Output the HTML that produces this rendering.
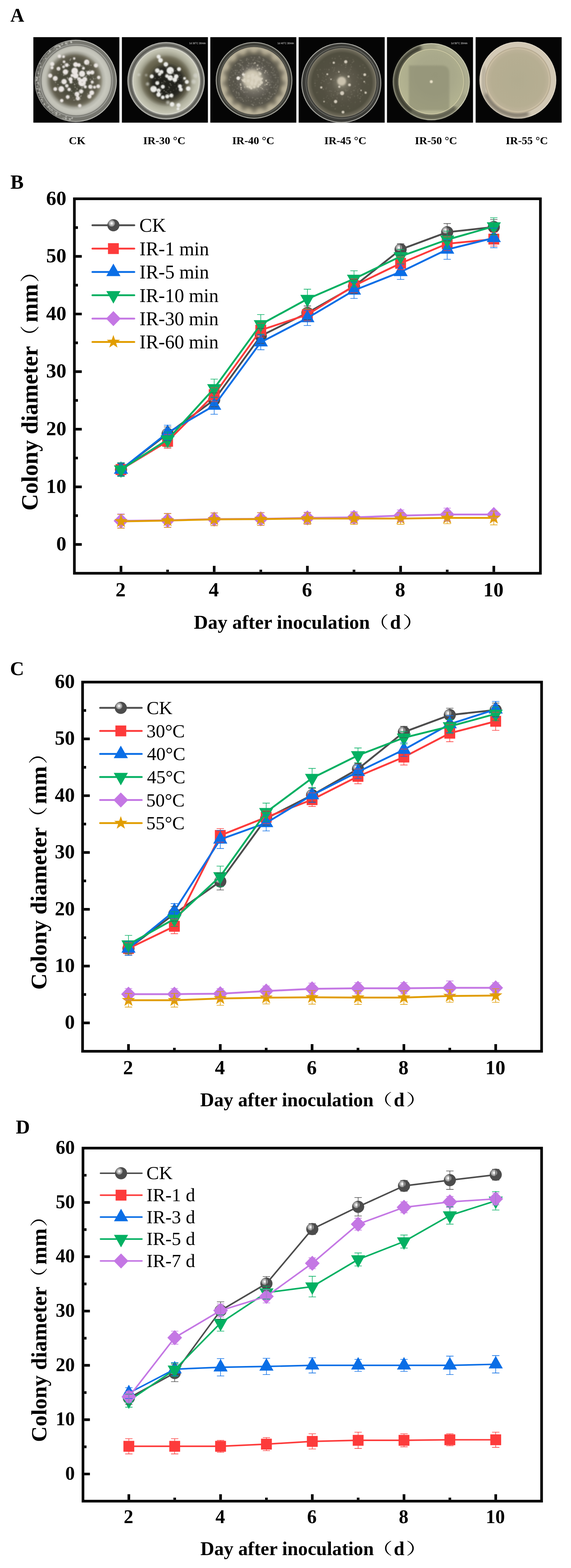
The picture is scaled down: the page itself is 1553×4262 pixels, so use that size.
<!DOCTYPE html>
<html><head><meta charset="utf-8"><title>Figure</title>
<style>html,body{margin:0;padding:0;background:#fff;}svg{display:block;}</style></head>
<body>
<svg width="1553" height="4262" viewBox="0 0 1553 4262" font-family="'Liberation Serif','Times New Roman',serif">
<defs>
<radialGradient id="ball" cx="0.355" cy="0.34" r="0.29" fx="0.355" fy="0.34">
<stop offset="0" stop-color="#ffffff"/><stop offset="0.16" stop-color="#fdfdfd"/><stop offset="0.24" stop-color="#dcdcdc"/><stop offset="0.46" stop-color="#cdcdcd"/>
<stop offset="0.52" stop-color="#b0b0b0"/><stop offset="0.78" stop-color="#a2a2a2"/><stop offset="0.84" stop-color="#8c8c8c"/><stop offset="0.96" stop-color="#6a6a6a"/><stop offset="1" stop-color="#4c4c4c"/>
</radialGradient>

<filter id="blur1" x="-20%" y="-20%" width="140%" height="140%"><feGaussianBlur stdDeviation="1.1"/></filter>
<filter id="blur2" x="-20%" y="-20%" width="140%" height="140%"><feGaussianBlur stdDeviation="2"/></filter>
<filter id="blur15" x="-30%" y="-30%" width="160%" height="160%"><feGaussianBlur stdDeviation="1.5"/></filter>
<filter id="blur6" x="-30%" y="-30%" width="160%" height="160%"><feGaussianBlur stdDeviation="7"/></filter>
<filter id="blur4" x="-30%" y="-30%" width="160%" height="160%"><feGaussianBlur stdDeviation="4"/></filter>
<radialGradient id="p1g" cx="0.5" cy="0.5" r="0.5">
<stop offset="0" stop-color="#565246"/><stop offset="0.45" stop-color="#5a5646"/><stop offset="0.6" stop-color="#6c6856"/>
<stop offset="0.7" stop-color="#8a8776"/><stop offset="0.77" stop-color="#b6b6ac"/><stop offset="0.86" stop-color="#c8c8be"/>
<stop offset="0.96" stop-color="#c2c2b8"/><stop offset="1" stop-color="#a6a69e"/></radialGradient>
<radialGradient id="p2g" cx="0.5" cy="0.5" r="0.5">
<stop offset="0" stop-color="#2c2b24"/><stop offset="0.45" stop-color="#33312a"/><stop offset="0.58" stop-color="#4c4a3e"/>
<stop offset="0.68" stop-color="#7a7868"/><stop offset="0.78" stop-color="#aaaa98"/><stop offset="0.9" stop-color="#bcbcaa"/>
<stop offset="0.97" stop-color="#c6c6b6"/><stop offset="1" stop-color="#d8d8cc"/></radialGradient>
<radialGradient id="p3g" cx="0.5" cy="0.5" r="0.5">
<stop offset="0" stop-color="#8a867a"/><stop offset="0.3" stop-color="#7c786c"/><stop offset="0.42" stop-color="#67635a"/>
<stop offset="0.55" stop-color="#57544a"/><stop offset="0.74" stop-color="#5a574c"/><stop offset="0.81" stop-color="#847e6a"/>
<stop offset="0.87" stop-color="#aaa28b"/><stop offset="0.95" stop-color="#bdb59d"/><stop offset="1" stop-color="#aca48e"/></radialGradient>
<radialGradient id="p4g" cx="0.5" cy="0.5" r="0.5">
<stop offset="0" stop-color="#a09a88"/><stop offset="0.14" stop-color="#767262"/><stop offset="0.3" stop-color="#5e5a4c"/>
<stop offset="0.6" stop-color="#524f41"/><stop offset="0.86" stop-color="#504e3f"/><stop offset="0.95" stop-color="#6a6656"/>
<stop offset="1" stop-color="#848070"/></radialGradient>
<radialGradient id="p5g" cx="0.55" cy="0.4" r="0.6">
<stop offset="0" stop-color="#a6a688"/><stop offset="0.5" stop-color="#a9a98b"/><stop offset="0.85" stop-color="#b2b290"/><stop offset="1" stop-color="#b6b594"/></radialGradient>
<radialGradient id="p6g" cx="0.5" cy="0.5" r="0.5">
<stop offset="0" stop-color="#b2ac90"/><stop offset="0.8" stop-color="#b6ae92"/><stop offset="0.92" stop-color="#bcb298"/><stop offset="1" stop-color="#c6baa0"/></radialGradient>
<clipPath id="cp1"><circle cx="207.5" cy="219" r="95"/></clipPath>
<clipPath id="cp2"><circle cx="452" cy="220" r="91"/></clipPath>
<clipPath id="cp3"><circle cx="691" cy="219.4" r="92"/></clipPath>
<clipPath id="cp4"><circle cx="930" cy="224.4" r="94"/></clipPath>
<clipPath id="cp5"><circle cx="1173" cy="222" r="91"/></clipPath>

</defs>
<rect width="1553" height="4262" fill="#fff"/>
<rect x="90.7" y="101" width="234" height="232.4" fill="#050505"/>
<rect x="331.5" y="101" width="234" height="232.4" fill="#050505"/>
<rect x="572" y="101" width="234" height="232.4" fill="#050505"/>
<rect x="812.3" y="101" width="234" height="232.4" fill="#050505"/>
<rect x="1052.5" y="101" width="234" height="232.4" fill="#050505"/>
<rect x="1293.6" y="101" width="234" height="232.4" fill="#050505"/>
<circle cx="206" cy="219.8" r="110.5" fill="#76766f" stroke="#b8b8b2" stroke-width="2.5"/>
<path d="M206 109.3 A110.5 110.5 0 0 0 206 330.3 A100 106 0 0 1 206 109.3Z" fill="#5a5a56"/>
<g filter="url(#blur1)"><g fill="#dcdcd6"><circle cx="153.37" cy="308.64" r="1.45"/><circle cx="106.61" cy="209.18" r="1.17"/><circle cx="106.38" cy="217.6" r="0.84"/><circle cx="175.74" cy="319.55" r="0.89"/><circle cx="147.1" cy="133.89" r="0.92"/><circle cx="111.02" cy="182.07" r="1.75"/><circle cx="105.56" cy="251.59" r="1.78"/><circle cx="157.73" cy="132.94" r="1.09"/><circle cx="163.2" cy="311.48" r="1.11"/><circle cx="143.56" cy="306.62" r="1.38"/><circle cx="107.7" cy="258.9" r="1.35"/><circle cx="179.96" cy="316.1" r="1.01"/><circle cx="102.37" cy="242.41" r="1.11"/><circle cx="101.6" cy="234.4" r="1.1"/><circle cx="117.28" cy="160.34" r="1.04"/><circle cx="100.96" cy="211.93" r="1.68"/><circle cx="119.98" cy="282.41" r="1.78"/><circle cx="108.18" cy="244.04" r="1.56"/><circle cx="104.77" cy="223.12" r="0.84"/><circle cx="131.02" cy="144.88" r="1.37"/><circle cx="114.68" cy="276.12" r="1.5"/><circle cx="103.47" cy="195.03" r="1.26"/><circle cx="179.36" cy="116.08" r="1.27"/><circle cx="178.01" cy="322" r="1.5"/><circle cx="194.62" cy="114.57" r="1.62"/><circle cx="108.98" cy="253.99" r="1.47"/><circle cx="107.98" cy="230.99" r="0.97"/><circle cx="179.88" cy="317.12" r="1.57"/><circle cx="132.05" cy="288.53" r="1.19"/><circle cx="171.61" cy="321.41" r="1.25"/><circle cx="161.85" cy="124.36" r="1.62"/><circle cx="121.13" cy="285.32" r="1.22"/><circle cx="162.73" cy="125.68" r="1.76"/><circle cx="147.97" cy="302.8" r="1.03"/><circle cx="103.79" cy="224.36" r="1.39"/><circle cx="195.81" cy="321.93" r="1.22"/><circle cx="104.32" cy="199.52" r="1.75"/><circle cx="99.97" cy="214.92" r="1.42"/><circle cx="180.02" cy="322.61" r="1.7"/><circle cx="158.66" cy="124.16" r="1.6"/><circle cx="106.74" cy="250.48" r="0.9"/><circle cx="177.59" cy="321.67" r="0.87"/><circle cx="151.04" cy="305.76" r="1.14"/><circle cx="197.26" cy="318.94" r="0.95"/><circle cx="113.61" cy="259.37" r="0.83"/><circle cx="104.8" cy="184.18" r="0.95"/><circle cx="113.81" cy="264.65" r="1.16"/><circle cx="154.54" cy="133.06" r="1.79"/><circle cx="101.61" cy="224.81" r="0.89"/><circle cx="116.24" cy="265.05" r="1.06"/><circle cx="148.59" cy="310.11" r="0.82"/><circle cx="98.65" cy="210.78" r="0.95"/><circle cx="188.48" cy="323.44" r="1.33"/><circle cx="154.96" cy="124.75" r="1.5"/><circle cx="111.3" cy="259.34" r="0.97"/><circle cx="99.83" cy="209.5" r="1.58"/><circle cx="135.65" cy="295.46" r="1.61"/><circle cx="151.96" cy="126.39" r="1.61"/><circle cx="125.01" cy="149.95" r="1.03"/><circle cx="110.57" cy="263.4" r="0.83"/><circle cx="127.58" cy="279.97" r="1.06"/><circle cx="183.22" cy="116.12" r="1.25"/><circle cx="192.82" cy="112.96" r="1.76"/><circle cx="136.01" cy="296.24" r="1.03"/><circle cx="140.86" cy="298.14" r="1.42"/><circle cx="148.87" cy="128.81" r="1.28"/><circle cx="139.28" cy="137.58" r="0.88"/><circle cx="169.18" cy="120.46" r="1.58"/><circle cx="99.7" cy="226.74" r="0.98"/><circle cx="112.14" cy="270.7" r="1.6"/><circle cx="103.27" cy="252.6" r="1.2"/><circle cx="121.38" cy="153.17" r="0.97"/><circle cx="154.48" cy="306.58" r="1.7"/><circle cx="152.8" cy="312.5" r="1.63"/><circle cx="109.64" cy="171.26" r="1.15"/><circle cx="157.83" cy="313.26" r="0.81"/><circle cx="108.62" cy="173.47" r="1.33"/><circle cx="100.44" cy="240.8" r="1.67"/><circle cx="135.98" cy="300.7" r="1.05"/><circle cx="132.08" cy="291.46" r="1.39"/><circle cx="106.35" cy="244.22" r="0.93"/><circle cx="108.46" cy="264.98" r="1.26"/><circle cx="167.76" cy="121.58" r="1.22"/><circle cx="98.46" cy="219.27" r="1.33"/><circle cx="191.07" cy="323.69" r="1.24"/><circle cx="195.95" cy="321.01" r="1.6"/><circle cx="104.75" cy="227.78" r="1.53"/><circle cx="114.51" cy="271.74" r="1.32"/><circle cx="136.06" cy="141.22" r="0.91"/><circle cx="128.73" cy="291.24" r="1.08"/><circle cx="99.36" cy="217.36" r="1.36"/><circle cx="169.76" cy="119.56" r="1.24"/><circle cx="100.41" cy="218.06" r="1.31"/><circle cx="100.9" cy="234.76" r="1.33"/><circle cx="179.02" cy="118.73" r="1.5"/><circle cx="178.54" cy="116.08" r="1.06"/><circle cx="179.4" cy="117.99" r="1.64"/><circle cx="162.21" cy="310.89" r="1.24"/><circle cx="134.2" cy="289.35" r="0.87"/><circle cx="135.44" cy="140.69" r="1.7"/><circle cx="124.8" cy="159.19" r="1.46"/><circle cx="163.38" cy="128.06" r="1.77"/><circle cx="182.89" cy="120.29" r="1.2"/><circle cx="193.75" cy="115.84" r="1.63"/><circle cx="106.67" cy="240.26" r="1.32"/><circle cx="141.94" cy="300.98" r="1.12"/><circle cx="190.63" cy="325.03" r="1.35"/><circle cx="191.35" cy="323.07" r="1.13"/><circle cx="100.38" cy="215.96" r="0.86"/><circle cx="135.23" cy="138.33" r="1.77"/></g></g>
<circle cx="207.5" cy="219" r="98.5" fill="none" stroke="#9a9a94" stroke-width="3"/>
<circle cx="207.5" cy="219" r="95" fill="url(#p1g)"/>
<g clip-path="url(#cp1)">
<ellipse cx="199.4" cy="217" rx="68" ry="70" fill="#5c5848" filter="url(#blur6)"/>
<ellipse cx="201" cy="214" rx="48" ry="50" fill="#4a483b" filter="url(#blur6)"/>
<g fill="#ebe6e3" filter="url(#blur15)"><circle cx="161.6" cy="152.8" r="4.73"/><circle cx="172.9" cy="154" r="3.68"/><circle cx="142" cy="174" r="5.78"/><circle cx="141.5" cy="184.2" r="3.99"/><circle cx="159.1" cy="186.7" r="5.25"/><circle cx="174.2" cy="167.9" r="3.68"/><circle cx="181.7" cy="176.7" r="5.25"/><circle cx="172.9" cy="181.7" r="3.68"/><circle cx="178" cy="195.5" r="7.35"/><circle cx="201.8" cy="159" r="3.15"/><circle cx="205.6" cy="175.4" r="6.62"/><circle cx="214.4" cy="176.7" r="5.25"/><circle cx="203.1" cy="193" r="9.24"/><circle cx="205.6" cy="205.6" r="7.88"/><circle cx="223.2" cy="200.5" r="8.40"/><circle cx="235.8" cy="169.1" r="7.35"/><circle cx="227" cy="185.5" r="3.99"/><circle cx="240.8" cy="198" r="5.78"/><circle cx="250.8" cy="196.8" r="5.78"/><circle cx="260.9" cy="177.9" r="5.78"/><circle cx="268.4" cy="210.6" r="4.73"/><circle cx="136.5" cy="205.6" r="5.78"/><circle cx="150.3" cy="213.1" r="6.62"/><circle cx="174.2" cy="221.9" r="7.35"/><circle cx="191.8" cy="215.6" r="5.78"/><circle cx="223.2" cy="224.4" r="10.50"/><circle cx="230.7" cy="215.6" r="6.62"/><circle cx="245.8" cy="235.7" r="5.78"/><circle cx="250.8" cy="223.1" r="3.99"/><circle cx="257.1" cy="237" r="3.99"/><circle cx="267.2" cy="234.5" r="5.25"/><circle cx="150.3" cy="242" r="5.25"/><circle cx="166.7" cy="242" r="7.88"/><circle cx="181.7" cy="233.2" r="4.73"/><circle cx="188" cy="243.2" r="4.73"/><circle cx="193" cy="223.1" r="3.99"/><circle cx="209.4" cy="255.8" r="6.62"/><circle cx="220.7" cy="248.3" r="5.78"/><circle cx="211.9" cy="267.1" r="5.78"/><circle cx="249.6" cy="252" r="6.62"/><circle cx="243.3" cy="262.1" r="5.78"/><circle cx="184.2" cy="263.4" r="5.25"/><circle cx="167.9" cy="273.4" r="4.73"/><circle cx="216.9" cy="287.2" r="4.73"/><circle cx="196" cy="205" r="4.20"/><circle cx="215" cy="215" r="5.25"/><circle cx="232" cy="236" r="4.20"/></g>
<g filter="url(#blur1)"><g fill="#b8b4ac"><circle cx="203.17" cy="233.68" r="0.64"/><circle cx="198.44" cy="265.77" r="0.72"/><circle cx="237" cy="195.09" r="1.34"/><circle cx="222.43" cy="238.79" r="1.43"/><circle cx="191.57" cy="173.3" r="0.68"/><circle cx="199.73" cy="202.12" r="0.98"/><circle cx="219.45" cy="209.1" r="1.17"/><circle cx="249.91" cy="241.08" r="1.37"/><circle cx="214.74" cy="203.63" r="1.01"/><circle cx="173.08" cy="203.95" r="1.43"/><circle cx="225.66" cy="236.78" r="1.07"/><circle cx="226.88" cy="232.98" r="0.75"/><circle cx="208.89" cy="227.43" r="0.88"/><circle cx="206.91" cy="183.03" r="0.86"/><circle cx="222.95" cy="251.88" r="0.91"/><circle cx="204.98" cy="222.82" r="0.61"/><circle cx="157.87" cy="199.34" r="0.77"/><circle cx="241.64" cy="199.05" r="0.7"/><circle cx="157.21" cy="236.7" r="1.05"/><circle cx="163.53" cy="247.98" r="1.06"/><circle cx="252.81" cy="209.7" r="0.91"/><circle cx="190.79" cy="164.03" r="1.17"/><circle cx="183.77" cy="245.18" r="0.65"/><circle cx="223.87" cy="223.98" r="1.27"/><circle cx="220.2" cy="240.07" r="0.68"/><circle cx="241.55" cy="176.34" r="1.2"/><circle cx="206.51" cy="245.76" r="0.86"/><circle cx="226.58" cy="247.86" r="1"/><circle cx="233.9" cy="207.92" r="1.48"/><circle cx="206.5" cy="257.87" r="1.47"/><circle cx="184.97" cy="240.3" r="0.6"/><circle cx="169.62" cy="220.68" r="1.05"/><circle cx="179.01" cy="214.23" r="0.6"/><circle cx="230.19" cy="230.93" r="0.96"/><circle cx="216.72" cy="216.67" r="0.87"/><circle cx="180.96" cy="200.67" r="1.08"/><circle cx="177.42" cy="173" r="1.24"/><circle cx="163.2" cy="249.79" r="0.89"/><circle cx="238.99" cy="261.45" r="1.25"/><circle cx="249.77" cy="227.64" r="1.35"/><circle cx="166.84" cy="175.7" r="1.26"/><circle cx="238.49" cy="255.13" r="1.07"/><circle cx="225.95" cy="179.54" r="1.32"/><circle cx="159.46" cy="188.43" r="1.4"/><circle cx="188.29" cy="170.08" r="0.81"/><circle cx="211.86" cy="222.6" r="0.92"/><circle cx="214.65" cy="198.88" r="1.1"/><circle cx="172.76" cy="182.26" r="1.21"/><circle cx="245.56" cy="215.84" r="1.32"/><circle cx="154.84" cy="214.06" r="1.08"/><circle cx="248.1" cy="233.99" r="1.26"/><circle cx="231" cy="228.13" r="0.84"/><circle cx="218.75" cy="262.58" r="1.27"/><circle cx="147.75" cy="217.18" r="0.94"/><circle cx="188.76" cy="178.29" r="1.29"/><circle cx="176.57" cy="179.4" r="0.67"/><circle cx="204.45" cy="237.26" r="1.27"/><circle cx="175.86" cy="201.78" r="0.61"/><circle cx="203.32" cy="229.19" r="1.2"/><circle cx="183.28" cy="171.91" r="0.86"/><circle cx="164.34" cy="224.18" r="1.02"/><circle cx="220.67" cy="202.63" r="0.78"/><circle cx="257.82" cy="192.63" r="0.62"/><circle cx="221.71" cy="179.44" r="1.47"/><circle cx="200.45" cy="253.62" r="0.79"/><circle cx="218.78" cy="269.69" r="1.12"/><circle cx="183.41" cy="211.71" r="1.46"/><circle cx="214.02" cy="195.9" r="1.06"/><circle cx="189.21" cy="162.71" r="0.81"/><circle cx="150.25" cy="219.78" r="0.62"/><circle cx="201.53" cy="215.18" r="1.01"/><circle cx="225.21" cy="239.65" r="0.91"/><circle cx="222.51" cy="187.49" r="0.6"/><circle cx="231.69" cy="172.42" r="0.71"/><circle cx="192.15" cy="160.68" r="1.41"/><circle cx="183.31" cy="237.46" r="0.95"/><circle cx="155.9" cy="184.19" r="0.92"/><circle cx="199.03" cy="252.47" r="0.64"/><circle cx="214.38" cy="199.06" r="0.86"/><circle cx="205.24" cy="271.1" r="0.84"/><circle cx="220.3" cy="253.53" r="0.94"/><circle cx="247.37" cy="177.3" r="1.33"/><circle cx="244.42" cy="191.16" r="1.45"/><circle cx="196.83" cy="172.8" r="0.64"/><circle cx="157.71" cy="230.08" r="1.28"/><circle cx="194.5" cy="260.36" r="0.64"/><circle cx="243.9" cy="255.05" r="1.02"/><circle cx="194.95" cy="247.48" r="1.27"/><circle cx="201.34" cy="272.19" r="1.19"/><circle cx="175.23" cy="203.79" r="0.95"/><circle cx="217.5" cy="235.16" r="0.79"/><circle cx="149.8" cy="216.01" r="0.8"/><circle cx="260.2" cy="213.78" r="1"/><circle cx="212.67" cy="235.27" r="0.68"/><circle cx="233.51" cy="233.37" r="0.82"/><circle cx="178.29" cy="202.51" r="1.4"/><circle cx="162.14" cy="241.16" r="0.97"/><circle cx="174.96" cy="244.34" r="0.9"/><circle cx="202.51" cy="229.23" r="1.47"/><circle cx="184.43" cy="214.56" r="1.17"/><circle cx="216.43" cy="267.65" r="0.84"/><circle cx="181.64" cy="232.03" r="1"/><circle cx="237.92" cy="168.9" r="1.39"/><circle cx="213.39" cy="216.72" r="1.24"/><circle cx="150.88" cy="224.18" r="1.13"/><circle cx="204.4" cy="215.49" r="1.43"/><circle cx="237.42" cy="173.45" r="1.48"/><circle cx="227.39" cy="233.29" r="0.74"/><circle cx="187.65" cy="176.84" r="1.45"/><circle cx="175.38" cy="175.62" r="1.29"/><circle cx="167.81" cy="202.53" r="0.64"/><circle cx="210.6" cy="265.99" r="1.43"/><circle cx="189.55" cy="258.96" r="0.72"/><circle cx="185.93" cy="193.01" r="1.23"/><circle cx="222.56" cy="223.31" r="1.07"/><circle cx="171.22" cy="243.64" r="0.8"/><circle cx="249.87" cy="217.95" r="0.87"/><circle cx="243.06" cy="204.96" r="1.18"/><circle cx="151.13" cy="223.43" r="0.81"/><circle cx="232.95" cy="207.94" r="1.23"/><circle cx="236.86" cy="219.39" r="1.05"/><circle cx="163.26" cy="237.94" r="0.83"/><circle cx="247.24" cy="193.53" r="0.8"/><circle cx="199.37" cy="224.11" r="0.98"/><circle cx="220.36" cy="260.39" r="1.32"/><circle cx="155.16" cy="213.47" r="0.78"/><circle cx="183.4" cy="267.88" r="1.34"/><circle cx="209.97" cy="242.42" r="1.28"/><circle cx="235.07" cy="205.63" r="1.05"/><circle cx="209.19" cy="239.75" r="0.98"/><circle cx="249.88" cy="200.03" r="0.73"/><circle cx="213.39" cy="250.4" r="1.48"/><circle cx="225.7" cy="221.99" r="0.65"/><circle cx="234.18" cy="193.28" r="1.4"/><circle cx="254.64" cy="214.23" r="1.44"/><circle cx="218.12" cy="245.59" r="1.44"/><circle cx="254.1" cy="224.97" r="1.2"/><circle cx="179.94" cy="240.41" r="0.9"/><circle cx="228.86" cy="215.43" r="0.85"/><circle cx="238.05" cy="205.51" r="0.71"/></g></g></g>
<circle cx="451.7" cy="219.4" r="104" fill="#7e7e78" stroke="#b4b4ae" stroke-width="2.5"/>
<circle cx="452" cy="220" r="97.5" fill="none" stroke="#5e5e58" stroke-width="5"/>
<circle cx="452" cy="220" r="92" fill="#d2d2c6"/>
<circle cx="452" cy="220" r="90.5" fill="url(#p2g)"/>
<g clip-path="url(#cp2)">
<ellipse cx="450" cy="216" rx="66" ry="63" fill="#6a6650" filter="url(#blur6)" opacity="0.9"/>
<ellipse cx="455" cy="224" rx="48" ry="48" fill="#24221c" filter="url(#blur6)"/>
<g fill="#ebebe7" filter="url(#blur15)"><circle cx="431.5" cy="154" r="5.50"/><circle cx="436.6" cy="164" r="6.30"/><circle cx="451.1" cy="174.9" r="6.30"/><circle cx="427.8" cy="191.7" r="6.30"/><circle cx="439" cy="195.5" r="5.50"/><circle cx="463" cy="191.7" r="10.00"/><circle cx="486.8" cy="188" r="5.50"/><circle cx="412.7" cy="207.6" r="5.50"/><circle cx="463" cy="211.8" r="7.50"/><circle cx="479.3" cy="208" r="6.30"/><circle cx="475.5" cy="216.9" r="6.30"/><circle cx="454.1" cy="206.8" r="5.00"/><circle cx="434" cy="201.8" r="4.50"/><circle cx="427.8" cy="225.7" r="5.50"/><circle cx="442.8" cy="235.7" r="5.50"/><circle cx="417.7" cy="242" r="8.80"/><circle cx="431.5" cy="245.8" r="5.50"/><circle cx="431.5" cy="257" r="6.30"/><circle cx="442.8" cy="264.6" r="5.00"/><circle cx="454.9" cy="262.1" r="5.50"/><circle cx="466.2" cy="259.6" r="5.50"/><circle cx="489.3" cy="234.5" r="5.50"/><circle cx="491.8" cy="243.3" r="5.50"/><circle cx="508.2" cy="222.6" r="5.50"/><circle cx="512" cy="240.7" r="6.30"/><circle cx="501.9" cy="213" r="3.80"/><circle cx="468" cy="283.5" r="6.30"/><circle cx="485.6" cy="286" r="5.50"/><circle cx="484.3" cy="296" r="3.80"/></g>
<g fill="#d6d6ce" opacity="0.7" filter="url(#blur2)"><circle cx="532" cy="205.6" r="6.30"/><circle cx="527" cy="221.9" r="6.30"/><circle cx="377.5" cy="203" r="3.80"/><circle cx="397.6" cy="204.3" r="3.00"/><circle cx="401.4" cy="228.2" r="4.50"/><circle cx="456.7" cy="278.4" r="5.00"/></g>
<g filter="url(#blur1)"><g fill="#8e8c80"><circle cx="466.69" cy="266.62" r="0.89"/><circle cx="472.83" cy="187.32" r="0.95"/><circle cx="445.15" cy="225.66" r="0.9"/><circle cx="470.12" cy="264.42" r="0.89"/><circle cx="496.85" cy="232.06" r="0.93"/><circle cx="459.24" cy="183.68" r="0.63"/><circle cx="462.76" cy="227.22" r="1.34"/><circle cx="454.61" cy="201.19" r="1.32"/><circle cx="451.34" cy="249.95" r="1.37"/><circle cx="452.3" cy="259.24" r="1.17"/><circle cx="450.94" cy="248.99" r="0.6"/><circle cx="488.85" cy="204.4" r="1.11"/><circle cx="498.2" cy="230.64" r="0.79"/><circle cx="484.88" cy="215.68" r="1.36"/><circle cx="454.82" cy="251.98" r="0.94"/><circle cx="483.44" cy="210.2" r="0.75"/><circle cx="452.09" cy="183.79" r="1.26"/><circle cx="424.09" cy="199.31" r="0.86"/><circle cx="438.56" cy="243.41" r="1.23"/><circle cx="459.11" cy="235.96" r="1.2"/><circle cx="475.55" cy="232.85" r="0.63"/><circle cx="439.67" cy="253.73" r="1.38"/><circle cx="497.17" cy="220.77" r="0.81"/><circle cx="465.73" cy="231.43" r="1"/><circle cx="419.17" cy="236.4" r="0.79"/><circle cx="433.86" cy="204.07" r="1.14"/><circle cx="477.28" cy="192.09" r="1.13"/><circle cx="463.47" cy="210.82" r="0.84"/><circle cx="431.35" cy="248.26" r="1.19"/><circle cx="455.32" cy="244.08" r="0.8"/><circle cx="468.16" cy="212.28" r="1.06"/><circle cx="434.58" cy="239.62" r="1.39"/><circle cx="458.74" cy="255.83" r="1.25"/><circle cx="491.31" cy="221.93" r="0.68"/><circle cx="468.04" cy="195.87" r="1.27"/><circle cx="496.65" cy="234.8" r="0.83"/><circle cx="460.76" cy="238.43" r="1.38"/><circle cx="486.11" cy="209.4" r="0.9"/><circle cx="415.24" cy="237.16" r="0.81"/><circle cx="492.4" cy="210.72" r="0.68"/><circle cx="429.66" cy="200.22" r="0.77"/><circle cx="472.24" cy="245.2" r="0.76"/><circle cx="436.57" cy="210.71" r="1.12"/><circle cx="475.25" cy="225.45" r="0.86"/><circle cx="469.69" cy="258.03" r="0.85"/><circle cx="460.7" cy="204.52" r="1.04"/><circle cx="464.1" cy="230.73" r="0.92"/><circle cx="433.59" cy="198.39" r="0.67"/><circle cx="448.88" cy="206.85" r="0.93"/><circle cx="446.52" cy="246.4" r="1.36"/><circle cx="432.01" cy="213.79" r="0.89"/><circle cx="474.1" cy="202.13" r="1.4"/><circle cx="463.84" cy="249.66" r="1.18"/><circle cx="475.29" cy="224.75" r="1.32"/><circle cx="467.53" cy="197.52" r="0.92"/><circle cx="413.99" cy="234.28" r="0.73"/><circle cx="449.8" cy="222.26" r="1.11"/><circle cx="491.38" cy="246.78" r="1.1"/><circle cx="427.61" cy="223.23" r="0.72"/><circle cx="431.26" cy="220.83" r="1.34"/><circle cx="440.18" cy="224.88" r="1.24"/><circle cx="469.37" cy="265.85" r="0.7"/><circle cx="498.19" cy="217.31" r="0.99"/><circle cx="464.3" cy="219.35" r="0.91"/><circle cx="423.87" cy="194.64" r="1.26"/><circle cx="459.02" cy="206.44" r="0.78"/><circle cx="471.29" cy="200.47" r="1.26"/><circle cx="458.83" cy="242.86" r="0.92"/><circle cx="430.9" cy="245.63" r="0.7"/><circle cx="451.48" cy="201.91" r="1.32"/><circle cx="446.57" cy="220.52" r="1.21"/><circle cx="459.62" cy="216.53" r="0.69"/><circle cx="421.87" cy="213.22" r="1.1"/><circle cx="433.17" cy="235.99" r="1.07"/><circle cx="439.09" cy="199.32" r="0.96"/><circle cx="484.47" cy="228.36" r="1.1"/><circle cx="457.91" cy="255.35" r="1.21"/><circle cx="416.61" cy="234.3" r="0.74"/><circle cx="479.21" cy="243.29" r="0.7"/><circle cx="479.76" cy="240.09" r="0.95"/></g></g></g>
<text x="514.5" y="119.5" font-family="'Liberation Sans','Noto Sans CJK SC',sans-serif" font-size="6.8" fill="#e4e4e4">1d 30°C 30min</text>
<circle cx="691" cy="218.4" r="103" fill="#3c3c36" stroke="#a4a49c" stroke-width="2.5"/>
<circle cx="691" cy="219.4" r="95" fill="none" stroke="#5a5a52" stroke-width="3"/>
<circle cx="691" cy="219.4" r="92" fill="url(#p3g)"/>
<g clip-path="url(#cp3)"><g fill="#5a574c" opacity="0.55" filter="url(#blur4)"><ellipse cx="764.72" cy="225.85" rx="8" ry="12" transform="rotate(95 764.72 225.85)"/><ellipse cx="757.41" cy="252.04" rx="8" ry="12" transform="rotate(116.18 757.41 252.04)"/><ellipse cx="741.13" cy="273.83" rx="8" ry="12" transform="rotate(137.35 741.13 273.83)"/><ellipse cx="718.09" cy="288.26" rx="8" ry="12" transform="rotate(158.53 718.09 288.26)"/><ellipse cx="691.38" cy="293.4" rx="8" ry="12" transform="rotate(179.71 691.38 293.4)"/><ellipse cx="664.62" cy="288.54" rx="8" ry="12" transform="rotate(200.88 664.62 288.54)"/><ellipse cx="641.43" cy="274.34" rx="8" ry="12" transform="rotate(222.06 641.43 274.34)"/><ellipse cx="624.93" cy="252.72" rx="8" ry="12" transform="rotate(243.24 624.93 252.72)"/><ellipse cx="617.35" cy="226.61" rx="8" ry="12" transform="rotate(264.41 617.35 226.61)"/><ellipse cx="619.72" cy="199.51" rx="8" ry="12" transform="rotate(285.59 619.72 199.51)"/><ellipse cx="631.72" cy="175.11" rx="8" ry="12" transform="rotate(306.76 631.72 175.11)"/><ellipse cx="651.72" cy="156.68" rx="8" ry="12" transform="rotate(327.94 651.72 156.68)"/><ellipse cx="677.03" cy="146.73" rx="8" ry="12" transform="rotate(349.12 677.03 146.73)"/><ellipse cx="704.22" cy="146.59" rx="8" ry="12" transform="rotate(370.29 704.22 146.59)"/><ellipse cx="729.63" cy="156.28" rx="8" ry="12" transform="rotate(391.47 729.63 156.28)"/><ellipse cx="749.82" cy="174.5" rx="8" ry="12" transform="rotate(412.65 749.82 174.5)"/><ellipse cx="762.07" cy="198.78" rx="8" ry="12" transform="rotate(433.82 762.07 198.78)"/></g>
<g filter="url(#blur1)"><g fill="#9a9688"><circle cx="745.72" cy="233.73" r="1.05"/><circle cx="686.91" cy="180.14" r="1.14"/><circle cx="744.35" cy="238.33" r="0.95"/><circle cx="741.1" cy="203.42" r="0.7"/><circle cx="756.01" cy="217.82" r="1.11"/><circle cx="713.21" cy="279.54" r="1.29"/><circle cx="744.99" cy="204.32" r="1.24"/><circle cx="701.57" cy="176.43" r="1.25"/><circle cx="668.35" cy="250.21" r="1.13"/><circle cx="725.98" cy="192.81" r="0.79"/><circle cx="730.76" cy="269.71" r="0.95"/><circle cx="708.18" cy="283.5" r="0.78"/><circle cx="667.26" cy="270.62" r="0.63"/><circle cx="714.85" cy="257.64" r="1.26"/><circle cx="739.28" cy="182.15" r="0.72"/><circle cx="738.56" cy="261.38" r="0.97"/><circle cx="652.88" cy="265.61" r="1.21"/><circle cx="640.35" cy="191.54" r="1.22"/><circle cx="731.9" cy="217.59" r="1.04"/><circle cx="706.67" cy="168.65" r="0.79"/><circle cx="631.04" cy="187.72" r="0.85"/><circle cx="632.12" cy="241.74" r="0.72"/><circle cx="750.64" cy="238.07" r="1.17"/><circle cx="660.13" cy="182.45" r="1.29"/><circle cx="660.75" cy="169.19" r="0.82"/><circle cx="720.03" cy="225.66" r="0.7"/><circle cx="636.91" cy="243.93" r="0.96"/><circle cx="735.47" cy="267.97" r="0.76"/><circle cx="750.74" cy="227.82" r="0.6"/><circle cx="731.68" cy="251.52" r="0.85"/><circle cx="650.38" cy="195.86" r="1.01"/><circle cx="658.2" cy="187.04" r="0.93"/><circle cx="730.34" cy="202.84" r="0.77"/><circle cx="726.82" cy="244.01" r="1.05"/><circle cx="704.11" cy="155.39" r="0.88"/><circle cx="739.44" cy="222.9" r="1.05"/><circle cx="656.81" cy="266.25" r="1.05"/><circle cx="741.44" cy="198.38" r="1.11"/><circle cx="730.39" cy="192.08" r="0.63"/><circle cx="643.52" cy="251.24" r="0.77"/><circle cx="697.8" cy="182.35" r="0.61"/><circle cx="744.76" cy="198.47" r="0.7"/><circle cx="655.31" cy="190.59" r="0.95"/><circle cx="714.28" cy="164.06" r="0.72"/><circle cx="675.39" cy="267.16" r="0.63"/><circle cx="704.52" cy="155.08" r="1.1"/><circle cx="708.44" cy="193.54" r="1.12"/><circle cx="688.14" cy="164.19" r="0.92"/><circle cx="728.1" cy="248.28" r="0.76"/><circle cx="672.64" cy="250.22" r="1.12"/><circle cx="725.59" cy="168.73" r="1.1"/><circle cx="645.12" cy="203.28" r="0.91"/><circle cx="628.16" cy="210.16" r="0.79"/><circle cx="749.62" cy="206.35" r="0.75"/><circle cx="756.22" cy="225.66" r="0.78"/><circle cx="689.18" cy="172" r="1.26"/><circle cx="661.95" cy="274.8" r="1.22"/><circle cx="694.46" cy="270.21" r="1.24"/><circle cx="669.99" cy="163.45" r="1.07"/><circle cx="624.66" cy="232.27" r="1.19"/><circle cx="729.4" cy="171.48" r="0.91"/><circle cx="634.91" cy="192.86" r="0.82"/><circle cx="657.69" cy="187.07" r="0.65"/><circle cx="731.69" cy="271.58" r="0.62"/><circle cx="728.04" cy="201.67" r="0.84"/><circle cx="733.36" cy="227.13" r="0.63"/><circle cx="650.15" cy="173.71" r="1.09"/><circle cx="748.09" cy="244.43" r="1.01"/><circle cx="712.46" cy="171.91" r="1.17"/><circle cx="751.2" cy="245.88" r="1.21"/><circle cx="753.24" cy="196.69" r="0.67"/><circle cx="726.19" cy="249.25" r="0.62"/><circle cx="715.63" cy="159.43" r="1.04"/><circle cx="647.42" cy="172.08" r="0.8"/><circle cx="724.2" cy="242.84" r="1.13"/><circle cx="671.59" cy="261.23" r="0.9"/><circle cx="689.58" cy="253.16" r="0.8"/><circle cx="649.23" cy="265" r="0.82"/><circle cx="623.75" cy="217.82" r="1.2"/><circle cx="749.33" cy="230.9" r="0.89"/><circle cx="698.85" cy="165.54" r="0.84"/><circle cx="631.16" cy="204.88" r="0.75"/><circle cx="745.81" cy="254.61" r="1.17"/><circle cx="735.51" cy="219.76" r="0.74"/><circle cx="753.31" cy="210.68" r="0.6"/><circle cx="635.06" cy="222.4" r="1.16"/><circle cx="645.84" cy="220.94" r="0.84"/><circle cx="686.72" cy="283.74" r="1.26"/><circle cx="701.84" cy="267.5" r="1.09"/><circle cx="734.35" cy="255.23" r="1.05"/><circle cx="700.29" cy="181.14" r="1.09"/><circle cx="646.94" cy="173.69" r="0.85"/><circle cx="648.94" cy="252.2" r="1.22"/><circle cx="721.37" cy="193.77" r="0.62"/><circle cx="687.18" cy="265.4" r="1.23"/><circle cx="650.11" cy="258.13" r="1.22"/><circle cx="645.09" cy="230.91" r="0.97"/><circle cx="692.18" cy="156.67" r="1.05"/><circle cx="667.09" cy="265.14" r="0.71"/><circle cx="657.04" cy="164.3" r="1.12"/><circle cx="649.78" cy="236.08" r="1.14"/><circle cx="732.05" cy="261" r="0.92"/><circle cx="695.97" cy="284.84" r="0.73"/><circle cx="676.51" cy="171.58" r="1.19"/><circle cx="715.35" cy="255.72" r="0.77"/><circle cx="640.63" cy="212.34" r="0.71"/><circle cx="709.96" cy="266.65" r="1.28"/><circle cx="740.86" cy="256.5" r="1.27"/><circle cx="660.56" cy="246.5" r="1.29"/><circle cx="684.33" cy="156.09" r="0.9"/><circle cx="661.41" cy="184.55" r="0.67"/><circle cx="655.73" cy="249.2" r="0.62"/><circle cx="704.57" cy="167.89" r="1.09"/><circle cx="653.08" cy="177.79" r="0.92"/><circle cx="656.76" cy="193.28" r="0.88"/><circle cx="743.29" cy="185.29" r="0.9"/><circle cx="690.67" cy="161.1" r="0.89"/><circle cx="682.82" cy="172.99" r="1.22"/><circle cx="671.5" cy="159.29" r="1.2"/><circle cx="652.59" cy="172.04" r="0.92"/><circle cx="656.12" cy="183.05" r="0.67"/><circle cx="701.89" cy="166.6" r="1.1"/><circle cx="690.98" cy="279.14" r="0.9"/><circle cx="651.29" cy="181.37" r="0.89"/><circle cx="746.11" cy="193.55" r="0.73"/><circle cx="701.63" cy="159.98" r="0.87"/><circle cx="746.28" cy="210.51" r="0.63"/><circle cx="721.54" cy="268.1" r="1.15"/><circle cx="624.69" cy="211.35" r="0.67"/><circle cx="634.61" cy="204.53" r="1.1"/><circle cx="654.7" cy="175.94" r="1.18"/><circle cx="642.9" cy="249.78" r="1.26"/><circle cx="672.43" cy="176.95" r="0.87"/><circle cx="736.22" cy="263.17" r="1.29"/><circle cx="739.6" cy="237.46" r="0.79"/><circle cx="744.1" cy="223.85" r="0.89"/><circle cx="673.77" cy="168.29" r="0.85"/><circle cx="698.77" cy="267.37" r="1.12"/><circle cx="625.18" cy="208.09" r="0.75"/><circle cx="641.34" cy="259.46" r="0.75"/><circle cx="698.05" cy="177.61" r="1.17"/><circle cx="632.26" cy="230.93" r="0.99"/><circle cx="736.81" cy="208.82" r="0.85"/><circle cx="716.1" cy="164.94" r="1.17"/><circle cx="675.77" cy="272.63" r="0.98"/><circle cx="712.17" cy="182.95" r="0.85"/><circle cx="683.91" cy="283.9" r="0.86"/><circle cx="647.96" cy="240.96" r="0.73"/><circle cx="685.7" cy="189.79" r="0.8"/><circle cx="675.71" cy="264.69" r="0.94"/><circle cx="655.76" cy="178.24" r="1.06"/><circle cx="737.95" cy="196.85" r="1.2"/><circle cx="708.66" cy="186.25" r="1.23"/><circle cx="731.3" cy="268.37" r="1.18"/><circle cx="750.56" cy="225.03" r="0.61"/><circle cx="653.66" cy="163.74" r="0.78"/><circle cx="716.43" cy="251.24" r="0.76"/><circle cx="654.98" cy="271.38" r="0.71"/><circle cx="708.09" cy="155.62" r="0.72"/><circle cx="639.9" cy="178.01" r="1.15"/><circle cx="738.71" cy="181.87" r="1.15"/><circle cx="711.99" cy="280.53" r="1.08"/><circle cx="688.1" cy="162.33" r="0.91"/><circle cx="629.31" cy="197.16" r="0.79"/><circle cx="721.34" cy="255.76" r="0.95"/><circle cx="654.13" cy="227.13" r="0.7"/><circle cx="634.96" cy="220.04" r="0.98"/><circle cx="756.1" cy="222.1" r="1.19"/><circle cx="639.86" cy="198.19" r="1.07"/><circle cx="645.28" cy="265.14" r="0.89"/><circle cx="750.8" cy="250.06" r="1.05"/><circle cx="749.94" cy="230.08" r="1.03"/><circle cx="746.48" cy="193.93" r="0.83"/><circle cx="623.52" cy="214.89" r="0.94"/><circle cx="755.41" cy="233.33" r="1.1"/><circle cx="659.49" cy="270.02" r="1.2"/><circle cx="639.46" cy="227.72" r="0.97"/><circle cx="706.42" cy="280.6" r="0.9"/><circle cx="640.08" cy="201.42" r="1.18"/><circle cx="714.3" cy="175.56" r="0.88"/><circle cx="683.34" cy="275.27" r="0.95"/><circle cx="652.91" cy="163.68" r="1.15"/><circle cx="670.13" cy="265.94" r="0.81"/><circle cx="652.18" cy="175.46" r="1.15"/><circle cx="684.85" cy="183.92" r="1.22"/><circle cx="745.76" cy="237.08" r="0.81"/><circle cx="702.48" cy="248.36" r="1.25"/><circle cx="658.65" cy="169.81" r="1.15"/><circle cx="640.49" cy="176.68" r="1.03"/><circle cx="671.28" cy="163.08" r="1.02"/><circle cx="705.24" cy="278.72" r="1.07"/><circle cx="695.38" cy="164.51" r="0.67"/><circle cx="734.82" cy="229.77" r="1.14"/><circle cx="654.01" cy="164.44" r="0.86"/><circle cx="705.63" cy="156.81" r="0.99"/><circle cx="675.48" cy="265.16" r="0.9"/><circle cx="645.15" cy="240.74" r="1.05"/><circle cx="753.77" cy="241.83" r="1"/><circle cx="717.38" cy="243.81" r="1.17"/><circle cx="741.88" cy="190.86" r="0.91"/><circle cx="666.14" cy="240.73" r="1.01"/><circle cx="757.25" cy="211.36" r="0.93"/><circle cx="734.03" cy="251.51" r="1.05"/><circle cx="717.87" cy="257.26" r="0.61"/><circle cx="678.56" cy="191.26" r="0.69"/><circle cx="748.26" cy="254.81" r="1.21"/><circle cx="733.1" cy="224.12" r="1.1"/><circle cx="686.08" cy="171.97" r="0.73"/><circle cx="696.56" cy="182.86" r="1.1"/><circle cx="682.74" cy="154.93" r="0.66"/><circle cx="675.87" cy="161.63" r="0.92"/><circle cx="689.3" cy="286" r="1.28"/><circle cx="752.72" cy="223.83" r="0.61"/><circle cx="715.75" cy="164.45" r="0.66"/><circle cx="684.52" cy="169.51" r="0.72"/><circle cx="626.12" cy="224.99" r="0.64"/><circle cx="644.44" cy="195.69" r="0.91"/><circle cx="728.36" cy="267.51" r="1.16"/><circle cx="659.03" cy="178.25" r="1.04"/><circle cx="650.43" cy="254.83" r="1.15"/><circle cx="705.44" cy="154.09" r="1"/><circle cx="737.07" cy="237.85" r="1.28"/><circle cx="719.77" cy="164.99" r="0.83"/><circle cx="749.54" cy="211.05" r="1.18"/><circle cx="669.76" cy="274.46" r="0.9"/><circle cx="644.06" cy="265.36" r="1.08"/><circle cx="737.9" cy="183.55" r="1.17"/><circle cx="740.29" cy="219.92" r="0.78"/><circle cx="644.81" cy="191.43" r="1.17"/><circle cx="754.38" cy="236.65" r="1.18"/><circle cx="734.01" cy="171.96" r="1"/><circle cx="720.05" cy="180.03" r="1.16"/><circle cx="743.34" cy="187.89" r="0.84"/><circle cx="653.57" cy="206.27" r="1.16"/><circle cx="691.05" cy="173.49" r="1.25"/><circle cx="653.93" cy="189.93" r="1.07"/><circle cx="705.89" cy="272.64" r="0.78"/><circle cx="707.22" cy="158.87" r="0.92"/><circle cx="704.87" cy="182.05" r="1.14"/><circle cx="649.49" cy="196.72" r="1.23"/><circle cx="625.99" cy="210.41" r="0.93"/><circle cx="712.9" cy="273.87" r="0.73"/><circle cx="677.38" cy="176.51" r="0.85"/><circle cx="643.51" cy="252.78" r="0.96"/><circle cx="732.75" cy="231.41" r="1.3"/><circle cx="732.23" cy="251.85" r="1.04"/><circle cx="726.31" cy="272.17" r="1.02"/><circle cx="639.89" cy="213.12" r="0.61"/><circle cx="726.27" cy="217.27" r="1.21"/><circle cx="640.01" cy="196.5" r="0.78"/><circle cx="634.42" cy="247.8" r="1.26"/><circle cx="717.42" cy="162.17" r="1.27"/><circle cx="737.8" cy="230.75" r="0.74"/><circle cx="729.93" cy="241.98" r="0.64"/><circle cx="730.79" cy="177.39" r="0.92"/><circle cx="747.49" cy="183.51" r="0.64"/><circle cx="643.89" cy="254.82" r="0.68"/><circle cx="687.96" cy="286.51" r="1"/><circle cx="748.78" cy="203.17" r="1.07"/><circle cx="640.69" cy="236.33" r="0.71"/></g></g>
<circle cx="686" cy="215" r="26" fill="#d2cab6" filter="url(#blur4)"/>
<g filter="url(#blur1)"><g fill="#dcd5c4" opacity="0.9"><circle cx="712.5" cy="213.62" r="2.55"/><circle cx="685.8" cy="220.3" r="2.88"/><circle cx="707.18" cy="200.52" r="4.09"/><circle cx="687.33" cy="209.3" r="3.77"/><circle cx="707.62" cy="213.01" r="2.14"/><circle cx="686.32" cy="204.73" r="4.35"/><circle cx="679.3" cy="236.18" r="3.48"/><circle cx="704.53" cy="229.46" r="2.81"/><circle cx="695.73" cy="224.63" r="3.2"/><circle cx="686.8" cy="226.06" r="2.36"/><circle cx="708.16" cy="216.76" r="3.79"/><circle cx="697.62" cy="217.68" r="4.32"/><circle cx="697.6" cy="209.89" r="4.17"/><circle cx="702.25" cy="234.59" r="3.12"/><circle cx="693.58" cy="211.36" r="4.11"/><circle cx="665.55" cy="221.31" r="2.85"/><circle cx="661.75" cy="218.45" r="3.57"/><circle cx="687.81" cy="225.04" r="2.14"/><circle cx="664.46" cy="207.49" r="2.36"/><circle cx="683.41" cy="240.06" r="3.03"/><circle cx="684.59" cy="225.56" r="4.1"/><circle cx="693.71" cy="228.58" r="3.23"/><circle cx="698.49" cy="206.3" r="2.29"/><circle cx="711.02" cy="224.34" r="4.24"/><circle cx="691.33" cy="236.42" r="3.19"/><circle cx="685.29" cy="229.43" r="2.5"/><circle cx="702.27" cy="214.08" r="4.5"/><circle cx="707.24" cy="229.94" r="2.72"/><circle cx="709.91" cy="224.03" r="3.82"/><circle cx="700.5" cy="213.04" r="2.04"/><circle cx="672.89" cy="235.41" r="2.35"/><circle cx="686.58" cy="213.97" r="3.32"/><circle cx="675.31" cy="219.61" r="4.28"/><circle cx="674.63" cy="209.53" r="2.35"/><circle cx="687.47" cy="203.64" r="3.78"/><circle cx="696.52" cy="220.72" r="2.22"/><circle cx="664.95" cy="215.6" r="2.68"/><circle cx="676.68" cy="207.04" r="3.77"/><circle cx="664.9" cy="202.89" r="2.51"/><circle cx="685.25" cy="208.12" r="3.02"/></g><g fill="#cfc8b6"><circle cx="724.77" cy="229.06" r="1.77"/><circle cx="704.82" cy="186.12" r="1.84"/><circle cx="723.38" cy="218.64" r="1.89"/><circle cx="711.85" cy="188.16" r="1.12"/><circle cx="701.1" cy="188.18" r="1.24"/><circle cx="665.23" cy="236.8" r="1.51"/><circle cx="664.47" cy="212.3" r="1.33"/><circle cx="713.54" cy="241.11" r="1.66"/><circle cx="714.26" cy="183.14" r="1.19"/><circle cx="655.81" cy="242.86" r="1.7"/><circle cx="704.26" cy="196.23" r="1.94"/><circle cx="648.55" cy="211.86" r="1.44"/><circle cx="724" cy="219.97" r="1.96"/><circle cx="699.12" cy="244" r="0.92"/><circle cx="699.31" cy="185.34" r="0.84"/><circle cx="677.25" cy="188.65" r="1.03"/><circle cx="667.08" cy="201.36" r="1.49"/><circle cx="674.84" cy="178.59" r="0.92"/><circle cx="677.11" cy="172.61" r="0.85"/><circle cx="657.25" cy="216.16" r="1.4"/><circle cx="709.92" cy="238.05" r="1.29"/><circle cx="661.48" cy="199.05" r="1.83"/><circle cx="659.45" cy="201.92" r="1.7"/><circle cx="699.85" cy="188.24" r="1.93"/><circle cx="654.76" cy="232.05" r="1.81"/><circle cx="655.78" cy="238.25" r="1.93"/><circle cx="663.8" cy="250.7" r="1.09"/><circle cx="654.31" cy="228.57" r="1.98"/><circle cx="722.21" cy="192.9" r="1.78"/><circle cx="726.6" cy="229.2" r="1.42"/><circle cx="726.74" cy="197.17" r="1.1"/><circle cx="661.64" cy="188.16" r="1.24"/><circle cx="720.65" cy="231.11" r="1.32"/><circle cx="723.44" cy="219.93" r="0.97"/><circle cx="693.42" cy="171" r="1.92"/><circle cx="700.52" cy="177.84" r="1.86"/><circle cx="728.5" cy="224.33" r="1.57"/><circle cx="671.71" cy="185.38" r="1.13"/><circle cx="720.16" cy="197.43" r="1.55"/><circle cx="653.75" cy="210.86" r="1.32"/></g></g>
<circle cx="648" cy="212.6" r="5" fill="#ece8e0" filter="url(#blur1)"/><circle cx="661.5" cy="203" r="3" fill="#e6e2da" filter="url(#blur1)"/></g>
<text x="754.5" y="119.5" font-family="'Liberation Sans','Noto Sans CJK SC',sans-serif" font-size="6.8" fill="#e4e4e4">1d 40°C 30min</text>
<circle cx="928.3" cy="225.2" r="107.5" fill="#3a3a36" stroke="#a8a8a2" stroke-width="2.5"/>
<circle cx="930" cy="224.4" r="98" fill="none" stroke="#5e5e58" stroke-width="3"/>
<circle cx="930" cy="224.4" r="94" fill="url(#p4g)"/>
<g clip-path="url(#cp4)"><g filter="url(#blur1)"><g fill="#8a8676"><circle cx="912.92" cy="295.51" r="0.71"/><circle cx="973.9" cy="265.82" r="0.92"/><circle cx="856.94" cy="218.06" r="0.69"/><circle cx="879.93" cy="213.59" r="0.6"/><circle cx="947.91" cy="243.8" r="0.71"/><circle cx="918.6" cy="270.84" r="0.67"/><circle cx="908.71" cy="218.02" r="1.09"/><circle cx="877.03" cy="199.4" r="0.96"/><circle cx="921.71" cy="191.8" r="0.82"/><circle cx="887.85" cy="188.26" r="0.83"/><circle cx="932.03" cy="266.14" r="0.66"/><circle cx="890.14" cy="260.37" r="0.91"/><circle cx="925.09" cy="230.93" r="1.1"/><circle cx="895.67" cy="211.63" r="0.84"/><circle cx="969.9" cy="221.26" r="0.71"/><circle cx="965.81" cy="279.72" r="0.55"/><circle cx="864.91" cy="250.18" r="0.54"/><circle cx="886.58" cy="241.62" r="1.01"/><circle cx="933.85" cy="248.89" r="1.17"/><circle cx="966.39" cy="277.6" r="0.74"/><circle cx="909.87" cy="184.68" r="0.93"/><circle cx="959.91" cy="162.06" r="0.86"/><circle cx="927.28" cy="159.99" r="1.03"/><circle cx="941.26" cy="173.94" r="1"/><circle cx="979.99" cy="275.84" r="1.11"/><circle cx="930.49" cy="219.49" r="0.91"/><circle cx="981.48" cy="212.12" r="0.9"/><circle cx="940.19" cy="177" r="1.11"/><circle cx="887.5" cy="264.53" r="0.82"/><circle cx="921.45" cy="174.37" r="0.71"/><circle cx="885.93" cy="208.42" r="0.77"/><circle cx="939.83" cy="182.99" r="1.09"/><circle cx="880.23" cy="242.66" r="0.63"/><circle cx="955.35" cy="257.07" r="0.9"/><circle cx="978.69" cy="254.42" r="1.14"/><circle cx="953.63" cy="188.86" r="1.09"/><circle cx="950.79" cy="294.83" r="0.8"/><circle cx="1001.41" cy="229.2" r="0.53"/><circle cx="873.64" cy="225.34" r="1.14"/><circle cx="865.96" cy="208.6" r="1.2"/><circle cx="876.37" cy="218.56" r="0.98"/><circle cx="900.68" cy="260.89" r="0.92"/><circle cx="972.08" cy="210.11" r="0.97"/><circle cx="974.18" cy="256.06" r="0.76"/><circle cx="886" cy="206.55" r="0.9"/><circle cx="998.6" cy="208.83" r="0.84"/><circle cx="894.73" cy="189.3" r="1.2"/><circle cx="886.84" cy="216.13" r="1.07"/><circle cx="917.15" cy="252.6" r="1.18"/><circle cx="862.05" cy="219.01" r="0.58"/><circle cx="903.84" cy="158.47" r="1.07"/><circle cx="986.95" cy="176.16" r="0.79"/><circle cx="922.64" cy="253.13" r="0.86"/><circle cx="950.21" cy="273.71" r="0.63"/><circle cx="882.53" cy="188.47" r="0.75"/><circle cx="881.09" cy="167.85" r="0.53"/><circle cx="941.27" cy="177.63" r="0.71"/><circle cx="992.31" cy="225.93" r="0.71"/><circle cx="871.02" cy="188.92" r="0.97"/><circle cx="896.74" cy="224.85" r="0.89"/><circle cx="906.64" cy="193.57" r="0.87"/><circle cx="863.16" cy="190.62" r="0.79"/><circle cx="944.45" cy="246.18" r="1.03"/><circle cx="949.81" cy="238.81" r="0.62"/><circle cx="954.05" cy="175.81" r="0.93"/><circle cx="992.29" cy="250.03" r="0.51"/><circle cx="900.92" cy="283.46" r="1"/><circle cx="951.64" cy="263.42" r="0.69"/><circle cx="949.47" cy="210.96" r="0.91"/><circle cx="887.88" cy="238.13" r="0.77"/><circle cx="943.55" cy="213.27" r="0.91"/><circle cx="861.75" cy="251.6" r="0.93"/><circle cx="966.03" cy="234.62" r="1.15"/><circle cx="902.55" cy="288.07" r="1.13"/><circle cx="907.58" cy="288.33" r="0.92"/><circle cx="856.54" cy="226.45" r="1.16"/><circle cx="901.55" cy="248" r="1"/><circle cx="917.18" cy="257.28" r="1.11"/><circle cx="943.85" cy="174.07" r="0.67"/><circle cx="910.33" cy="248.67" r="0.63"/><circle cx="911.3" cy="295.92" r="0.89"/><circle cx="905.15" cy="219.05" r="0.77"/><circle cx="973.65" cy="243.44" r="0.59"/><circle cx="889.51" cy="279.22" r="0.67"/><circle cx="923.13" cy="256.47" r="0.67"/><circle cx="922.81" cy="212.37" r="0.74"/><circle cx="921.89" cy="195.92" r="0.56"/><circle cx="949.83" cy="190.88" r="0.59"/><circle cx="955.77" cy="181.63" r="1.06"/><circle cx="911.97" cy="248.28" r="1.01"/><circle cx="974.48" cy="212.5" r="0.65"/><circle cx="856.9" cy="222.18" r="0.66"/><circle cx="964.32" cy="261.39" r="0.99"/><circle cx="960.93" cy="201.81" r="0.91"/><circle cx="931.07" cy="269.88" r="0.93"/><circle cx="954.05" cy="199.55" r="0.59"/><circle cx="878.19" cy="210.19" r="0.69"/><circle cx="880.63" cy="268.03" r="0.96"/><circle cx="908.94" cy="276.84" r="0.77"/><circle cx="939.73" cy="244.13" r="1.1"/><circle cx="907.85" cy="188.13" r="0.58"/><circle cx="893.76" cy="267.39" r="0.85"/><circle cx="967.42" cy="240.85" r="0.72"/><circle cx="955.06" cy="249.81" r="1"/><circle cx="897.27" cy="247.14" r="1.14"/><circle cx="978.91" cy="180.04" r="1.1"/><circle cx="925.48" cy="251.29" r="0.52"/><circle cx="898.06" cy="171.46" r="0.75"/><circle cx="903.95" cy="183.88" r="0.99"/><circle cx="951.34" cy="193.71" r="0.75"/><circle cx="954.76" cy="278.47" r="0.58"/><circle cx="922.83" cy="153.11" r="1"/><circle cx="944.61" cy="228.15" r="0.61"/><circle cx="919.07" cy="255.94" r="0.77"/><circle cx="924.45" cy="238.18" r="0.95"/><circle cx="946.94" cy="197.5" r="0.9"/><circle cx="928.12" cy="287.86" r="0.8"/><circle cx="893.84" cy="274.81" r="0.5"/><circle cx="941.34" cy="156.84" r="0.7"/><circle cx="939.46" cy="212.07" r="0.93"/><circle cx="930.57" cy="240.71" r="0.58"/><circle cx="946.54" cy="289.04" r="1.14"/><circle cx="985.65" cy="257.85" r="0.99"/><circle cx="929.28" cy="177.35" r="1.08"/><circle cx="963.59" cy="245.7" r="1.16"/><circle cx="974.21" cy="203.66" r="0.98"/><circle cx="961.05" cy="167.91" r="0.94"/><circle cx="977.56" cy="241.29" r="0.99"/><circle cx="881.05" cy="220.74" r="1.15"/><circle cx="932.01" cy="197.68" r="0.53"/><circle cx="951.57" cy="165.34" r="0.68"/><circle cx="984.42" cy="213.81" r="0.95"/><circle cx="930.11" cy="279.71" r="0.54"/><circle cx="891.87" cy="248.05" r="0.64"/><circle cx="957.33" cy="256.02" r="0.99"/><circle cx="934.67" cy="285.63" r="0.67"/><circle cx="879.34" cy="242.63" r="1.16"/><circle cx="916.43" cy="266.74" r="1.12"/><circle cx="903.95" cy="213.46" r="0.73"/><circle cx="865.37" cy="204.18" r="1.03"/><circle cx="914.55" cy="197.69" r="0.92"/><circle cx="935.16" cy="173.73" r="1.08"/><circle cx="923.79" cy="249" r="0.75"/><circle cx="961.66" cy="237.01" r="0.7"/><circle cx="920.03" cy="192.63" r="0.81"/><circle cx="918.63" cy="246.9" r="0.83"/><circle cx="952.24" cy="263.73" r="0.55"/><circle cx="937.79" cy="224.01" r="1.03"/><circle cx="925.54" cy="203.13" r="1.19"/><circle cx="973.65" cy="259.96" r="0.84"/><circle cx="948.25" cy="270.33" r="0.88"/><circle cx="935.98" cy="221.09" r="0.95"/><circle cx="984.57" cy="200.89" r="0.96"/><circle cx="930.95" cy="261.99" r="0.6"/><circle cx="931.91" cy="212.07" r="1.09"/><circle cx="946.04" cy="261.94" r="0.95"/><circle cx="991.79" cy="193.75" r="0.62"/><circle cx="962.15" cy="166.26" r="1.02"/><circle cx="947.14" cy="263.69" r="1.08"/><circle cx="901.24" cy="255.6" r="0.89"/><circle cx="952.31" cy="184.66" r="0.67"/><circle cx="916.09" cy="218.19" r="0.94"/><circle cx="911.29" cy="159.12" r="1.13"/><circle cx="857.14" cy="226.97" r="0.85"/><circle cx="920.88" cy="252.73" r="0.91"/><circle cx="921.93" cy="204.75" r="0.61"/><circle cx="979.03" cy="214.99" r="0.56"/><circle cx="916.08" cy="229.96" r="0.63"/><circle cx="993.76" cy="225.52" r="1.09"/><circle cx="945.95" cy="156.89" r="0.8"/><circle cx="908.96" cy="190.48" r="0.86"/><circle cx="904.26" cy="265.71" r="0.81"/><circle cx="958.16" cy="170.05" r="1.13"/><circle cx="921.38" cy="253.57" r="0.81"/><circle cx="897.46" cy="270.33" r="0.64"/><circle cx="920.23" cy="243.97" r="0.82"/><circle cx="992.09" cy="184.29" r="1.11"/><circle cx="1001.91" cy="206.81" r="0.93"/><circle cx="992.8" cy="249.27" r="0.97"/><circle cx="912.95" cy="280.4" r="0.9"/><circle cx="857.33" cy="233.24" r="0.95"/><circle cx="907.28" cy="258.57" r="1.12"/><circle cx="934.69" cy="236" r="0.98"/><circle cx="973.14" cy="249.99" r="0.96"/><circle cx="890.02" cy="202.17" r="0.79"/><circle cx="879.87" cy="202.77" r="0.78"/><circle cx="940.72" cy="247.37" r="1.12"/><circle cx="972.27" cy="260.4" r="1.1"/><circle cx="961.24" cy="245.62" r="0.87"/><circle cx="892.47" cy="226.93" r="0.89"/><circle cx="897.96" cy="208.65" r="0.58"/><circle cx="884.36" cy="196.05" r="0.56"/><circle cx="972.89" cy="245.74" r="0.81"/><circle cx="863.79" cy="202.63" r="1"/><circle cx="979.05" cy="267.43" r="1.19"/><circle cx="981.05" cy="262.52" r="1.08"/><circle cx="952.3" cy="265.72" r="1.17"/><circle cx="938.8" cy="168.82" r="0.6"/><circle cx="991.8" cy="247.78" r="0.67"/><circle cx="975.56" cy="228.76" r="0.92"/></g></g>
<circle cx="929.1" cy="220.6" r="12" fill="#cac2ae" filter="url(#blur2)"/>
<g fill="#d2cbbb" filter="url(#blur1)"><circle cx="907.8" cy="170.4" r="3.00"/><circle cx="940.4" cy="167.9" r="4.50"/><circle cx="992" cy="203" r="3.80"/><circle cx="873.8" cy="237.7" r="3.00"/><circle cx="930.4" cy="253.3" r="5.50"/><circle cx="912.8" cy="276" r="4.50"/><circle cx="932.9" cy="304.8" r="3.80"/><circle cx="994.5" cy="252" r="3.00"/><circle cx="982" cy="245.8" r="2.00"/><circle cx="950.5" cy="230.7" r="3.80"/><circle cx="922.8" cy="235.7" r="3.00"/><circle cx="948" cy="208" r="3.00"/><circle cx="890.2" cy="201.8" r="2.50"/><circle cx="900.2" cy="215.6" r="2.00"/><circle cx="921.6" cy="195.5" r="2.00"/><circle cx="990.7" cy="221.9" r="2.00"/><circle cx="881.4" cy="276" r="2.00"/></g></g>
<circle cx="1173" cy="222" r="103.5" fill="#a2a286" stroke="#cacab2" stroke-width="2.5"/>
<path d="M1117.94 300.64 A96 96 0 0 1 1140.17 131.79" fill="none" stroke="#34342a" stroke-width="13" stroke-linecap="round" opacity="1.0" filter="url(#blur4)"/>
<path d="M1234.71 295.54 A96 96 0 0 1 1125 305.14" fill="none" stroke="#4e4e40" stroke-width="12" stroke-linecap="round" opacity="0.9" filter="url(#blur4)"/>
<path d="M1189.84 126.47 A97 97 0 0 1 1264.15 255.18" fill="none" stroke="#c8c8a8" stroke-width="6" stroke-linecap="round" opacity="0.7" filter="url(#blur4)"/>
<circle cx="1173" cy="222" r="89" fill="url(#p5g)"/>
<g clip-path="url(#cp5)"><path d="M1112 178 H1200 Q1222 178 1222 200 V300 H1112 Z" fill="#8c8d72" opacity="0.6" filter="url(#blur2)"/></g>
<circle cx="1173" cy="222" r="88" fill="none" stroke="#d6d0aa" stroke-width="1.5" opacity="0.9"/>
<circle cx="1173" cy="222" r="4" fill="#e8e0c8" filter="url(#blur1)"/>
<text x="1226.5" y="119.5" font-family="'Liberation Sans','Noto Sans CJK SC',sans-serif" font-size="6.8" fill="#e4e4e4">1d 50°C 30min</text>
<circle cx="1408.5" cy="218" r="103.5" fill="#d2c8b4" stroke="#e0d8c8" stroke-width="2"/>
<path d="M1433.09 309.76 A95 95 0 0 1 1322.4 258.15" fill="none" stroke="#6a6456" stroke-width="11" stroke-linecap="round" opacity="0.85" filter="url(#blur4)"/>
<path d="M1319.23 250.49 A95 95 0 0 1 1319.23 185.51" fill="none" stroke="#8a8474" stroke-width="8" stroke-linecap="round" opacity="0.5" filter="url(#blur4)"/>
<circle cx="1408.5" cy="218" r="89" fill="url(#p6g)" stroke="#b0a48c" stroke-width="1.5"/>
<circle cx="1408.5" cy="218" r="85" fill="none" stroke="#d2c6aa" stroke-width="1.5" opacity="0.8"/>
<text x="187.34" y="392.4" font-size="30" font-weight="bold">CK</text>
<text x="389.59" y="392.4" font-size="30" font-weight="bold">IR-30 °C</text>
<text x="631.39" y="392.4" font-size="30" font-weight="bold">IR-40 °C</text>
<text x="881.99" y="392.4" font-size="30" font-weight="bold">IR-45 °C</text>
<text x="1128.59" y="392.4" font-size="30" font-weight="bold">IR-50 °C</text>
<text x="1375.59" y="392.4" font-size="30" font-weight="bold">IR-55 °C</text>
<text x="28.29" y="59" font-size="52" font-weight="bold">A</text>
<polyline points="329.05,1276.32 455.8,1179.23 582.55,1086.83 709.3,913.01 836.05,850.37 962.8,778.33 1089.55,678.11 1216.3,631.13 1343.05,617.03" fill="none" stroke="#4d4d4d" stroke-width="5" stroke-linejoin="round"/>
<circle cx="329.05" cy="1276.32" r="16.5" fill="url(#ball)"/>
<circle cx="455.8" cy="1179.23" r="16.5" fill="url(#ball)"/>
<circle cx="582.55" cy="1086.83" r="16.5" fill="url(#ball)"/>
<circle cx="709.3" cy="913.01" r="16.5" fill="url(#ball)"/>
<circle cx="836.05" cy="850.37" r="16.5" fill="url(#ball)"/>
<circle cx="962.8" cy="778.33" r="16.5" fill="url(#ball)"/>
<circle cx="1089.55" cy="678.11" r="16.5" fill="url(#ball)"/>
<circle cx="1216.3" cy="631.13" r="16.5" fill="url(#ball)"/>
<circle cx="1343.05" cy="617.03" r="16.5" fill="url(#ball)"/>
<polyline points="329.05,1276.32 455.8,1199.59 582.55,1072.74 709.3,897.35 836.05,855.07 962.8,776.77 1089.55,715.69 1216.3,662.45 1343.05,649.92" fill="none" stroke="#fd3b3b" stroke-width="5" stroke-linejoin="round"/>
<rect x="314.3" y="1261.57" width="29.5" height="29.5" fill="#fd3b3b"/>
<rect x="441.05" y="1184.84" width="29.5" height="29.5" fill="#fd3b3b"/>
<rect x="567.8" y="1057.99" width="29.5" height="29.5" fill="#fd3b3b"/>
<rect x="694.55" y="882.6" width="29.5" height="29.5" fill="#fd3b3b"/>
<rect x="821.3" y="840.32" width="29.5" height="29.5" fill="#fd3b3b"/>
<rect x="948.05" y="762.02" width="29.5" height="29.5" fill="#fd3b3b"/>
<rect x="1074.8" y="700.94" width="29.5" height="29.5" fill="#fd3b3b"/>
<rect x="1201.55" y="647.7" width="29.5" height="29.5" fill="#fd3b3b"/>
<rect x="1328.3" y="635.17" width="29.5" height="29.5" fill="#fd3b3b"/>
<polyline points="329.05,1276.32 455.8,1176.1 582.55,1102.49 709.3,930.23 836.05,864.46 962.8,789.29 1089.55,739.18 1216.3,678.11 1343.05,646.79" fill="none" stroke="#0a6ee6" stroke-width="5" stroke-linejoin="round"/>
<path d="M329.05 1253.65L348.3 1287.65L309.8 1287.65Z" fill="#0a6ee6"/>
<path d="M455.8 1153.43L475.05 1187.43L436.55 1187.43Z" fill="#0a6ee6"/>
<path d="M582.55 1079.83L601.8 1113.83L563.3 1113.83Z" fill="#0a6ee6"/>
<path d="M709.3 907.57L728.55 941.57L690.05 941.57Z" fill="#0a6ee6"/>
<path d="M836.05 841.8L855.3 875.8L816.8 875.8Z" fill="#0a6ee6"/>
<path d="M962.8 766.63L982.05 800.63L943.55 800.63Z" fill="#0a6ee6"/>
<path d="M1089.55 716.52L1108.8 750.52L1070.3 750.52Z" fill="#0a6ee6"/>
<path d="M1216.3 655.44L1235.55 689.44L1197.05 689.44Z" fill="#0a6ee6"/>
<path d="M1343.05 624.12L1362.3 658.12L1323.8 658.12Z" fill="#0a6ee6"/>
<polyline points="329.05,1276.32 455.8,1194.89 582.55,1055.51 709.3,881.69 836.05,812.78 962.8,757.97 1089.55,696.9 1216.3,651.49 1343.05,615.47" fill="none" stroke="#03b062" stroke-width="5" stroke-linejoin="round"/>
<path d="M329.05 1298.99L348.3 1264.99L309.8 1264.99Z" fill="#03b062"/>
<path d="M455.8 1217.55L475.05 1183.55L436.55 1183.55Z" fill="#03b062"/>
<path d="M582.55 1078.18L601.8 1044.18L563.3 1044.18Z" fill="#03b062"/>
<path d="M709.3 904.35L728.55 870.35L690.05 870.35Z" fill="#03b062"/>
<path d="M836.05 835.45L855.3 801.45L816.8 801.45Z" fill="#03b062"/>
<path d="M962.8 780.64L982.05 746.64L943.55 746.64Z" fill="#03b062"/>
<path d="M1089.55 719.57L1108.8 685.57L1070.3 685.57Z" fill="#03b062"/>
<path d="M1216.3 674.15L1235.55 640.15L1197.05 640.15Z" fill="#03b062"/>
<path d="M1343.05 638.13L1362.3 604.13L1323.8 604.13Z" fill="#03b062"/>
<polyline points="329.05,1415.69 455.8,1414.13 582.55,1411 709.3,1410.21 836.05,1407.86 962.8,1406.3 1089.55,1401.6 1216.3,1398.47 1343.05,1398.47" fill="none" stroke="#c477e4" stroke-width="5" stroke-linejoin="round"/>
<path d="M329.05 1395.19L349.05 1415.69L329.05 1436.19L309.05 1415.69Z" fill="#c477e4"/>
<path d="M455.8 1393.63L475.8 1414.13L455.8 1434.63L435.8 1414.13Z" fill="#c477e4"/>
<path d="M582.55 1390.5L602.55 1411L582.55 1431.5L562.55 1411Z" fill="#c477e4"/>
<path d="M709.3 1389.71L729.3 1410.21L709.3 1430.71L689.3 1410.21Z" fill="#c477e4"/>
<path d="M836.05 1387.36L856.05 1407.86L836.05 1428.36L816.05 1407.86Z" fill="#c477e4"/>
<path d="M962.8 1385.8L982.8 1406.3L962.8 1426.8L942.8 1406.3Z" fill="#c477e4"/>
<path d="M1089.55 1381.1L1109.55 1401.6L1089.55 1422.1L1069.55 1401.6Z" fill="#c477e4"/>
<path d="M1216.3 1377.97L1236.3 1398.47L1216.3 1418.97L1196.3 1398.47Z" fill="#c477e4"/>
<path d="M1343.05 1377.97L1363.05 1398.47L1343.05 1418.97L1323.05 1398.47Z" fill="#c477e4"/>
<polyline points="329.05,1417.26 455.8,1414.91 582.55,1411.78 709.3,1411 836.05,1409.43 962.8,1409.43 1089.55,1409.43 1216.3,1407.86 1343.05,1407.86" fill="none" stroke="#e19d00" stroke-width="5" stroke-linejoin="round"/>
<path d="M329.05 1398.26L333.52 1411.11L347.12 1411.39L336.28 1419.61L340.22 1432.63L329.05 1424.86L317.88 1432.63L321.82 1419.61L310.98 1411.39L324.58 1411.11Z" fill="#e19d00"/>
<path d="M455.8 1395.91L460.27 1408.76L473.87 1409.04L463.03 1417.26L466.97 1430.28L455.8 1422.51L444.63 1430.28L448.57 1417.26L437.73 1409.04L451.33 1408.76Z" fill="#e19d00"/>
<path d="M582.55 1392.78L587.02 1405.63L600.62 1405.91L589.78 1414.13L593.72 1427.15L582.55 1419.38L571.38 1427.15L575.32 1414.13L564.48 1405.91L578.08 1405.63Z" fill="#e19d00"/>
<path d="M709.3 1392L713.77 1404.85L727.37 1405.12L716.53 1413.34L720.47 1426.37L709.3 1418.6L698.13 1426.37L702.07 1413.34L691.23 1405.12L704.83 1404.85Z" fill="#e19d00"/>
<path d="M836.05 1390.43L840.52 1403.28L854.12 1403.56L843.28 1411.78L847.22 1424.8L836.05 1417.03L824.88 1424.8L828.82 1411.78L817.98 1403.56L831.58 1403.28Z" fill="#e19d00"/>
<path d="M962.8 1390.43L967.27 1403.28L980.87 1403.56L970.03 1411.78L973.97 1424.8L962.8 1417.03L951.63 1424.8L955.57 1411.78L944.73 1403.56L958.33 1403.28Z" fill="#e19d00"/>
<path d="M1089.55 1390.43L1094.02 1403.28L1107.62 1403.56L1096.78 1411.78L1100.72 1424.8L1089.55 1417.03L1078.38 1424.8L1082.32 1411.78L1071.48 1403.56L1085.08 1403.28Z" fill="#e19d00"/>
<path d="M1216.3 1388.86L1220.77 1401.72L1234.37 1401.99L1223.53 1410.21L1227.47 1423.24L1216.3 1415.46L1205.13 1423.24L1209.07 1410.21L1198.23 1401.99L1211.83 1401.72Z" fill="#e19d00"/>
<path d="M1343.05 1388.86L1347.52 1401.72L1361.12 1401.99L1350.28 1410.21L1354.22 1423.24L1343.05 1415.46L1331.88 1423.24L1335.82 1410.21L1324.98 1401.99L1338.58 1401.72Z" fill="#e19d00"/>
<path d="M329.05 1260.66V1291.98M319.05 1260.66H339.05M319.05 1291.98H339.05" stroke="#4d4d4d" stroke-width="1.6" fill="none"/>
<path d="M455.8 1160.44V1198.02M445.8 1160.44H465.8M445.8 1198.02H465.8" stroke="#4d4d4d" stroke-width="1.6" fill="none"/>
<path d="M582.55 1068.04V1105.63M572.55 1068.04H592.55M572.55 1105.63H592.55" stroke="#4d4d4d" stroke-width="1.6" fill="none"/>
<path d="M709.3 892.65V933.37M699.3 892.65H719.3M699.3 933.37H719.3" stroke="#4d4d4d" stroke-width="1.6" fill="none"/>
<path d="M836.05 831.58V869.16M826.05 831.58H846.05M826.05 869.16H846.05" stroke="#4d4d4d" stroke-width="1.6" fill="none"/>
<path d="M962.8 759.54V797.12M952.8 759.54H972.8M952.8 797.12H972.8" stroke="#4d4d4d" stroke-width="1.6" fill="none"/>
<path d="M1089.55 662.45V693.77M1079.55 662.45H1099.55M1079.55 693.77H1099.55" stroke="#4d4d4d" stroke-width="1.6" fill="none"/>
<path d="M1216.3 607.64V654.62M1206.3 607.64H1226.3M1206.3 654.62H1226.3" stroke="#4d4d4d" stroke-width="1.6" fill="none"/>
<path d="M1343.05 596.68V637.39M1333.05 596.68H1353.05M1333.05 637.39H1353.05" stroke="#4d4d4d" stroke-width="1.6" fill="none"/>
<path d="M329.05 1257.53V1295.11M319.05 1257.53H339.05M319.05 1295.11H339.05" stroke="#fd3b3b" stroke-width="1.6" fill="none"/>
<path d="M455.8 1180.79V1218.38M445.8 1180.79H465.8M445.8 1218.38H465.8" stroke="#fd3b3b" stroke-width="1.6" fill="none"/>
<path d="M582.55 1053.95V1091.53M572.55 1053.95H592.55M572.55 1091.53H592.55" stroke="#fd3b3b" stroke-width="1.6" fill="none"/>
<path d="M709.3 878.56V916.14M699.3 878.56H719.3M699.3 916.14H719.3" stroke="#fd3b3b" stroke-width="1.6" fill="none"/>
<path d="M836.05 837.84V872.29M826.05 837.84H846.05M826.05 872.29H846.05" stroke="#fd3b3b" stroke-width="1.6" fill="none"/>
<path d="M962.8 757.97V795.56M952.8 757.97H972.8M952.8 795.56H972.8" stroke="#fd3b3b" stroke-width="1.6" fill="none"/>
<path d="M1089.55 698.47V732.92M1079.55 698.47H1099.55M1079.55 732.92H1099.55" stroke="#fd3b3b" stroke-width="1.6" fill="none"/>
<path d="M1216.3 643.66V681.24M1206.3 643.66H1226.3M1206.3 681.24H1226.3" stroke="#fd3b3b" stroke-width="1.6" fill="none"/>
<path d="M1343.05 631.13V668.71M1333.05 631.13H1353.05M1333.05 668.71H1353.05" stroke="#fd3b3b" stroke-width="1.6" fill="none"/>
<path d="M329.05 1259.09V1293.55M319.05 1259.09H339.05M319.05 1293.55H339.05" stroke="#0a6ee6" stroke-width="1.6" fill="none"/>
<path d="M455.8 1155.74V1196.45M445.8 1155.74H465.8M445.8 1196.45H465.8" stroke="#0a6ee6" stroke-width="1.6" fill="none"/>
<path d="M582.55 1079V1125.98M572.55 1079H592.55M572.55 1125.98H592.55" stroke="#0a6ee6" stroke-width="1.6" fill="none"/>
<path d="M709.3 909.88V950.59M699.3 909.88H719.3M699.3 950.59H719.3" stroke="#0a6ee6" stroke-width="1.6" fill="none"/>
<path d="M836.05 844.1V884.82M826.05 844.1H846.05M826.05 884.82H846.05" stroke="#0a6ee6" stroke-width="1.6" fill="none"/>
<path d="M962.8 767.37V811.22M952.8 767.37H972.8M952.8 811.22H972.8" stroke="#0a6ee6" stroke-width="1.6" fill="none"/>
<path d="M1089.55 718.82V759.54M1079.55 718.82H1099.55M1079.55 759.54H1099.55" stroke="#0a6ee6" stroke-width="1.6" fill="none"/>
<path d="M1216.3 651.49V704.73M1206.3 651.49H1226.3M1206.3 704.73H1226.3" stroke="#0a6ee6" stroke-width="1.6" fill="none"/>
<path d="M1343.05 620.17V673.41M1333.05 620.17H1353.05M1333.05 673.41H1353.05" stroke="#0a6ee6" stroke-width="1.6" fill="none"/>
<path d="M329.05 1257.53V1295.11M319.05 1257.53H339.05M319.05 1295.11H339.05" stroke="#03b062" stroke-width="1.6" fill="none"/>
<path d="M455.8 1174.53V1215.25M445.8 1174.53H465.8M445.8 1215.25H465.8" stroke="#03b062" stroke-width="1.6" fill="none"/>
<path d="M582.55 1030.46V1080.57M572.55 1030.46H592.55M572.55 1080.57H592.55" stroke="#03b062" stroke-width="1.6" fill="none"/>
<path d="M709.3 855.07V908.31M699.3 855.07H719.3M699.3 908.31H719.3" stroke="#03b062" stroke-width="1.6" fill="none"/>
<path d="M836.05 786.16V839.41M826.05 786.16H846.05M826.05 839.41H846.05" stroke="#03b062" stroke-width="1.6" fill="none"/>
<path d="M962.8 736.05V779.9M952.8 736.05H972.8M952.8 779.9H972.8" stroke="#03b062" stroke-width="1.6" fill="none"/>
<path d="M1089.55 678.11V715.69M1079.55 678.11H1099.55M1079.55 715.69H1099.55" stroke="#03b062" stroke-width="1.6" fill="none"/>
<path d="M1216.3 628V674.98M1206.3 628H1226.3M1206.3 674.98H1226.3" stroke="#03b062" stroke-width="1.6" fill="none"/>
<path d="M1343.05 591.98V638.96M1333.05 591.98H1353.05M1333.05 638.96H1353.05" stroke="#03b062" stroke-width="1.6" fill="none"/>
<path d="M329.05 1396.9V1434.49M319.05 1396.9H339.05M319.05 1434.49H339.05" stroke="#c477e4" stroke-width="1.6" fill="none"/>
<path d="M455.8 1395.34V1432.92M445.8 1395.34H465.8M445.8 1432.92H465.8" stroke="#c477e4" stroke-width="1.6" fill="none"/>
<path d="M582.55 1393.77V1428.22M572.55 1393.77H592.55M572.55 1428.22H592.55" stroke="#c477e4" stroke-width="1.6" fill="none"/>
<path d="M709.3 1392.99V1427.44M699.3 1392.99H719.3M699.3 1427.44H719.3" stroke="#c477e4" stroke-width="1.6" fill="none"/>
<path d="M836.05 1392.2V1423.52M826.05 1392.2H846.05M826.05 1423.52H846.05" stroke="#c477e4" stroke-width="1.6" fill="none"/>
<path d="M962.8 1390.64V1421.96M952.8 1390.64H972.8M952.8 1421.96H972.8" stroke="#c477e4" stroke-width="1.6" fill="none"/>
<path d="M1089.55 1385.94V1417.26M1079.55 1385.94H1099.55M1079.55 1417.26H1099.55" stroke="#c477e4" stroke-width="1.6" fill="none"/>
<path d="M1216.3 1381.24V1415.69M1206.3 1381.24H1226.3M1206.3 1415.69H1226.3" stroke="#c477e4" stroke-width="1.6" fill="none"/>
<path d="M1343.05 1389.07V1407.86M1333.05 1389.07H1353.05M1333.05 1407.86H1353.05" stroke="#c477e4" stroke-width="1.6" fill="none"/>
<path d="M329.05 1398.47V1436.05M319.05 1398.47H339.05M319.05 1436.05H339.05" stroke="#e19d00" stroke-width="1.6" fill="none"/>
<path d="M455.8 1396.12V1433.7M445.8 1396.12H465.8M445.8 1433.7H465.8" stroke="#e19d00" stroke-width="1.6" fill="none"/>
<path d="M582.55 1394.55V1429.01M572.55 1394.55H592.55M572.55 1429.01H592.55" stroke="#e19d00" stroke-width="1.6" fill="none"/>
<path d="M709.3 1393.77V1428.22M699.3 1393.77H719.3M699.3 1428.22H719.3" stroke="#e19d00" stroke-width="1.6" fill="none"/>
<path d="M836.05 1393.77V1425.09M826.05 1393.77H846.05M826.05 1425.09H846.05" stroke="#e19d00" stroke-width="1.6" fill="none"/>
<path d="M962.8 1393.77V1425.09M952.8 1393.77H972.8M952.8 1425.09H972.8" stroke="#e19d00" stroke-width="1.6" fill="none"/>
<path d="M1089.55 1393.77V1425.09M1079.55 1393.77H1099.55M1079.55 1425.09H1099.55" stroke="#e19d00" stroke-width="1.6" fill="none"/>
<path d="M1216.3 1392.2V1423.52M1206.3 1392.2H1226.3M1206.3 1423.52H1226.3" stroke="#e19d00" stroke-width="1.6" fill="none"/>
<path d="M1343.05 1389.07V1426.66M1333.05 1389.07H1353.05M1333.05 1426.66H1353.05" stroke="#e19d00" stroke-width="1.6" fill="none"/>
<rect x="202.3" y="540.3" width="1267.5" height="1017.9" fill="none" stroke="#000" stroke-width="7.2"/>
<path d="M329.05 1554.6V1538.1M455.8 1554.6V1548.6M582.55 1554.6V1538.1M709.3 1554.6V1548.6M836.05 1554.6V1538.1M962.8 1554.6V1548.6M1089.55 1554.6V1538.1M1216.3 1554.6V1548.6M1343.05 1554.6V1538.1M205.9 1479.9H222.4M205.9 1401.6H211.9M205.9 1323.3H222.4M205.9 1245H211.9M205.9 1166.7H222.4M205.9 1088.4H211.9M205.9 1010.1H222.4M205.9 931.8H211.9M205.9 853.5H222.4M205.9 775.2H211.9M205.9 696.9H222.4M205.9 618.6H211.9" stroke="#000" stroke-width="7.2" fill="none"/>
<text x="180.5" y="1496.1" text-anchor="end" font-size="55" font-weight="bold">0</text>
<text x="180.5" y="1339.5" text-anchor="end" font-size="55" font-weight="bold">10</text>
<text x="180.5" y="1182.9" text-anchor="end" font-size="55" font-weight="bold">20</text>
<text x="180.5" y="1026.3" text-anchor="end" font-size="55" font-weight="bold">30</text>
<text x="180.5" y="869.7" text-anchor="end" font-size="55" font-weight="bold">40</text>
<text x="180.5" y="713.1" text-anchor="end" font-size="55" font-weight="bold">50</text>
<text x="180.5" y="556.5" text-anchor="end" font-size="55" font-weight="bold">60</text>
<text x="328.05" y="1621.2" text-anchor="middle" font-size="55" font-weight="bold">2</text>
<text x="581.55" y="1621.2" text-anchor="middle" font-size="55" font-weight="bold">4</text>
<text x="835.05" y="1621.2" text-anchor="middle" font-size="55" font-weight="bold">6</text>
<text x="1088.55" y="1621.2" text-anchor="middle" font-size="55" font-weight="bold">8</text>
<text x="1342.05" y="1621.2" text-anchor="middle" font-size="55" font-weight="bold">10</text>
<text x="527.17" y="1709.1" font-size="53" font-weight="bold">Day after inoculation</text>
<text transform="translate(1001.48,1706.8) scale(1.262,1)" font-size="44.34" font-family="'Liberation Serif','Noto Serif CJK SC',serif">（</text>
<text x="1060.85" y="1709.1" font-size="53" font-weight="bold">d</text>
<text transform="translate(1094.48,1706.8) scale(1.404,1)" font-size="44.34" font-family="'Liberation Serif','Noto Serif CJK SC',serif">）</text>
<g transform="translate(102.4,1384.8) rotate(-90)"><text x="-3.06" y="0" font-size="62.7" font-weight="bold">Colony diameter</text><text transform="translate(441.53,-2.9) scale(1.131,1)" font-size="52.24" font-family="'Liberation Serif','Noto Serif CJK SC',serif">（</text><text x="508.22" y="0" font-size="62.7" font-weight="bold">mm</text><text transform="translate(616.23,-2.9) scale(1.205,1)" font-size="52.24" font-family="'Liberation Serif','Noto Serif CJK SC',serif">）</text></g>
<line x1="251.4" y1="612.3" x2="365.2" y2="612.3" stroke="#4d4d4d" stroke-width="5" stroke-linecap="round"/>
<circle cx="308.4" cy="612.3" r="16.5" fill="url(#ball)"/>
<text x="379.07" y="630.2" font-size="52">CK</text>
<line x1="251.4" y1="675.74" x2="365.2" y2="675.74" stroke="#fd3b3b" stroke-width="5" stroke-linecap="round"/>
<rect x="293.65" y="660.99" width="29.5" height="29.5" fill="#fd3b3b"/>
<text x="379.32" y="693.64" font-size="52">IR-1 min</text>
<line x1="251.4" y1="739.18" x2="365.2" y2="739.18" stroke="#0a6ee6" stroke-width="5" stroke-linecap="round"/>
<path d="M308.4 716.51L327.65 750.51L289.15 750.51Z" fill="#0a6ee6"/>
<text x="379.32" y="757.08" font-size="52">IR-5 min</text>
<line x1="251.4" y1="802.62" x2="365.2" y2="802.62" stroke="#03b062" stroke-width="5" stroke-linecap="round"/>
<path d="M308.4 825.29L327.65 791.29L289.15 791.29Z" fill="#03b062"/>
<text x="379.32" y="820.52" font-size="52">IR-10 min</text>
<line x1="251.4" y1="866.06" x2="365.2" y2="866.06" stroke="#c477e4" stroke-width="5" stroke-linecap="round"/>
<path d="M308.4 845.56L328.4 866.06L308.4 886.56L288.4 866.06Z" fill="#c477e4"/>
<text x="379.32" y="883.96" font-size="52">IR-30 min</text>
<line x1="251.4" y1="929.5" x2="365.2" y2="929.5" stroke="#e19d00" stroke-width="5" stroke-linecap="round"/>
<path d="M308.4 910.5L312.87 923.35L326.47 923.63L315.63 931.85L319.57 944.87L308.4 937.1L297.23 944.87L301.17 931.85L290.33 923.63L303.93 923.35Z" fill="#e19d00"/>
<text x="379.32" y="947.4" font-size="52">IR-60 min</text>
<text x="28.2" y="512.9" font-size="54" font-weight="bold">B</text>
<polyline points="349.44,2578.06 474.28,2483.89 599.12,2395.89 723.96,2224.52 848.8,2161.23 973.64,2090.21 1098.48,1989.86 1223.32,1943.54 1348.16,1929.65" fill="none" stroke="#4d4d4d" stroke-width="5" stroke-linejoin="round"/>
<circle cx="349.44" cy="2578.06" r="16.5" fill="url(#ball)"/>
<circle cx="474.28" cy="2483.89" r="16.5" fill="url(#ball)"/>
<circle cx="599.12" cy="2395.89" r="16.5" fill="url(#ball)"/>
<circle cx="723.96" cy="2224.52" r="16.5" fill="url(#ball)"/>
<circle cx="848.8" cy="2161.23" r="16.5" fill="url(#ball)"/>
<circle cx="973.64" cy="2090.21" r="16.5" fill="url(#ball)"/>
<circle cx="1098.48" cy="1989.86" r="16.5" fill="url(#ball)"/>
<circle cx="1223.32" cy="1943.54" r="16.5" fill="url(#ball)"/>
<circle cx="1348.16" cy="1929.65" r="16.5" fill="url(#ball)"/>
<polyline points="349.44,2578.06 474.28,2517.85 599.12,2270.84 723.96,2221.44 848.8,2173.58 973.64,2110.28 1098.48,2057.79 1223.32,1992.95 1348.16,1960.53" fill="none" stroke="#fd3b3b" stroke-width="5" stroke-linejoin="round"/>
<rect x="334.69" y="2563.31" width="29.5" height="29.5" fill="#fd3b3b"/>
<rect x="459.53" y="2503.1" width="29.5" height="29.5" fill="#fd3b3b"/>
<rect x="584.37" y="2256.09" width="29.5" height="29.5" fill="#fd3b3b"/>
<rect x="709.21" y="2206.69" width="29.5" height="29.5" fill="#fd3b3b"/>
<rect x="834.05" y="2158.83" width="29.5" height="29.5" fill="#fd3b3b"/>
<rect x="958.89" y="2095.53" width="29.5" height="29.5" fill="#fd3b3b"/>
<rect x="1083.73" y="2043.04" width="29.5" height="29.5" fill="#fd3b3b"/>
<rect x="1208.57" y="1978.2" width="29.5" height="29.5" fill="#fd3b3b"/>
<rect x="1333.41" y="1945.78" width="29.5" height="29.5" fill="#fd3b3b"/>
<polyline points="349.44,2578.06 474.28,2476.17 599.12,2281.65 723.96,2236.87 848.8,2161.23 973.64,2097.93 1098.48,2037.72 1223.32,1968.24 1348.16,1928.1" fill="none" stroke="#0a6ee6" stroke-width="5" stroke-linejoin="round"/>
<path d="M349.44 2555.4L368.69 2589.4L330.19 2589.4Z" fill="#0a6ee6"/>
<path d="M474.28 2453.5L493.53 2487.5L455.03 2487.5Z" fill="#0a6ee6"/>
<path d="M599.12 2258.98L618.37 2292.98L579.87 2292.98Z" fill="#0a6ee6"/>
<path d="M723.96 2214.21L743.21 2248.21L704.71 2248.21Z" fill="#0a6ee6"/>
<path d="M848.8 2138.56L868.05 2172.56L829.55 2172.56Z" fill="#0a6ee6"/>
<path d="M973.64 2075.26L992.89 2109.26L954.39 2109.26Z" fill="#0a6ee6"/>
<path d="M1098.48 2015.05L1117.73 2049.05L1079.23 2049.05Z" fill="#0a6ee6"/>
<path d="M1223.32 1945.58L1242.57 1979.58L1204.07 1979.58Z" fill="#0a6ee6"/>
<path d="M1348.16 1905.44L1367.41 1939.44L1328.91 1939.44Z" fill="#0a6ee6"/>
<polyline points="349.44,2567.26 474.28,2497.78 599.12,2382 723.96,2207.54 848.8,2114.91 973.64,2053.16 1098.48,2005.3 1223.32,1974.42 1348.16,1940.46" fill="none" stroke="#03b062" stroke-width="5" stroke-linejoin="round"/>
<path d="M349.44 2589.92L368.69 2555.92L330.19 2555.92Z" fill="#03b062"/>
<path d="M474.28 2520.45L493.53 2486.45L455.03 2486.45Z" fill="#03b062"/>
<path d="M599.12 2404.66L618.37 2370.66L579.87 2370.66Z" fill="#03b062"/>
<path d="M723.96 2230.21L743.21 2196.21L704.71 2196.21Z" fill="#03b062"/>
<path d="M848.8 2137.58L868.05 2103.58L829.55 2103.58Z" fill="#03b062"/>
<path d="M973.64 2075.82L992.89 2041.82L954.39 2041.82Z" fill="#03b062"/>
<path d="M1098.48 2027.96L1117.73 1993.96L1079.23 1993.96Z" fill="#03b062"/>
<path d="M1223.32 1997.09L1242.57 1963.09L1204.07 1963.09Z" fill="#03b062"/>
<path d="M1348.16 1963.12L1367.41 1929.12L1328.91 1929.12Z" fill="#03b062"/>
<polyline points="349.44,2702.19 474.28,2702.19 599.12,2700.95 723.96,2693.85 848.8,2687.68 973.64,2686.13 1098.48,2686.13 1223.32,2684.9 1348.16,2684.9" fill="none" stroke="#c477e4" stroke-width="5" stroke-linejoin="round"/>
<path d="M349.44 2681.69L369.44 2702.19L349.44 2722.69L329.44 2702.19Z" fill="#c477e4"/>
<path d="M474.28 2681.69L494.28 2702.19L474.28 2722.69L454.28 2702.19Z" fill="#c477e4"/>
<path d="M599.12 2680.45L619.12 2700.95L599.12 2721.45L579.12 2700.95Z" fill="#c477e4"/>
<path d="M723.96 2673.35L743.96 2693.85L723.96 2714.35L703.96 2693.85Z" fill="#c477e4"/>
<path d="M848.8 2667.18L868.8 2687.68L848.8 2708.18L828.8 2687.68Z" fill="#c477e4"/>
<path d="M973.64 2665.63L993.64 2686.13L973.64 2706.63L953.64 2686.13Z" fill="#c477e4"/>
<path d="M1098.48 2665.63L1118.48 2686.13L1098.48 2706.63L1078.48 2686.13Z" fill="#c477e4"/>
<path d="M1223.32 2664.4L1243.32 2684.9L1223.32 2705.4L1203.32 2684.9Z" fill="#c477e4"/>
<path d="M1348.16 2664.4L1368.16 2684.9L1348.16 2705.4L1328.16 2684.9Z" fill="#c477e4"/>
<polyline points="349.44,2718.86 474.28,2718.86 599.12,2713.92 723.96,2711.76 848.8,2710.83 973.64,2711.61 1098.48,2711.61 1223.32,2707.28 1348.16,2706.05" fill="none" stroke="#e19d00" stroke-width="5" stroke-linejoin="round"/>
<path d="M349.44 2699.86L353.91 2712.71L367.51 2712.99L356.67 2721.21L360.61 2734.23L349.44 2726.46L338.27 2734.23L342.21 2721.21L331.37 2712.99L344.97 2712.71Z" fill="#e19d00"/>
<path d="M474.28 2699.86L478.75 2712.71L492.35 2712.99L481.51 2721.21L485.45 2734.23L474.28 2726.46L463.11 2734.23L467.05 2721.21L456.21 2712.99L469.81 2712.71Z" fill="#e19d00"/>
<path d="M599.12 2694.92L603.59 2707.77L617.19 2708.05L606.35 2716.27L610.29 2729.29L599.12 2721.52L587.95 2729.29L591.89 2716.27L581.05 2708.05L594.65 2707.77Z" fill="#e19d00"/>
<path d="M723.96 2692.76L728.43 2705.61L742.03 2705.89L731.19 2714.11L735.13 2727.13L723.96 2719.36L712.79 2727.13L716.73 2714.11L705.89 2705.89L719.49 2705.61Z" fill="#e19d00"/>
<path d="M848.8 2691.83L853.27 2704.69L866.87 2704.96L856.03 2713.18L859.97 2726.21L848.8 2718.43L837.63 2726.21L841.57 2713.18L830.73 2704.96L844.33 2704.69Z" fill="#e19d00"/>
<path d="M973.64 2692.61L978.11 2705.46L991.71 2705.74L980.87 2713.96L984.81 2726.98L973.64 2719.21L962.47 2726.98L966.41 2713.96L955.57 2705.74L969.17 2705.46Z" fill="#e19d00"/>
<path d="M1098.48 2692.61L1102.95 2705.46L1116.55 2705.74L1105.71 2713.96L1109.65 2726.98L1098.48 2719.21L1087.31 2726.98L1091.25 2713.96L1080.41 2705.74L1094.01 2705.46Z" fill="#e19d00"/>
<path d="M1223.32 2688.28L1227.79 2701.14L1241.39 2701.41L1230.55 2709.63L1234.49 2722.66L1223.32 2714.88L1212.15 2722.66L1216.09 2709.63L1205.25 2701.41L1218.85 2701.14Z" fill="#e19d00"/>
<path d="M1348.16 2687.05L1352.63 2699.9L1366.23 2700.18L1355.39 2708.4L1359.33 2721.42L1348.16 2713.65L1336.99 2721.42L1340.93 2708.4L1330.09 2700.18L1343.69 2699.9Z" fill="#e19d00"/>
<path d="M349.44 2559.54V2596.59M339.44 2559.54H359.44M339.44 2596.59H359.44" stroke="#4d4d4d" stroke-width="1.6" fill="none"/>
<path d="M474.28 2463.82V2503.96M464.28 2463.82H484.28M464.28 2503.96H484.28" stroke="#4d4d4d" stroke-width="1.6" fill="none"/>
<path d="M599.12 2372.73V2419.05M589.12 2372.73H609.12M589.12 2419.05H609.12" stroke="#4d4d4d" stroke-width="1.6" fill="none"/>
<path d="M723.96 2206V2243.05M713.96 2206H733.96M713.96 2243.05H733.96" stroke="#4d4d4d" stroke-width="1.6" fill="none"/>
<path d="M848.8 2142.7V2179.75M838.8 2142.7H858.8M838.8 2179.75H858.8" stroke="#4d4d4d" stroke-width="1.6" fill="none"/>
<path d="M973.64 2074.77V2105.65M963.64 2074.77H983.64M963.64 2105.65H983.64" stroke="#4d4d4d" stroke-width="1.6" fill="none"/>
<path d="M1098.48 1974.42V2005.3M1088.48 1974.42H1108.48M1088.48 2005.3H1108.48" stroke="#4d4d4d" stroke-width="1.6" fill="none"/>
<path d="M1223.32 1925.02V1962.07M1213.32 1925.02H1233.32M1213.32 1962.07H1233.32" stroke="#4d4d4d" stroke-width="1.6" fill="none"/>
<path d="M1348.16 1911.12V1948.17M1338.16 1911.12H1358.16M1338.16 1948.17H1358.16" stroke="#4d4d4d" stroke-width="1.6" fill="none"/>
<path d="M349.44 2562.63V2593.5M339.44 2562.63H359.44M339.44 2593.5H359.44" stroke="#fd3b3b" stroke-width="1.6" fill="none"/>
<path d="M474.28 2497.78V2537.92M464.28 2497.78H484.28M464.28 2537.92H484.28" stroke="#fd3b3b" stroke-width="1.6" fill="none"/>
<path d="M599.12 2252.31V2289.36M589.12 2252.31H609.12M589.12 2289.36H609.12" stroke="#fd3b3b" stroke-width="1.6" fill="none"/>
<path d="M723.96 2204.45V2238.42M713.96 2204.45H733.96M713.96 2238.42H733.96" stroke="#fd3b3b" stroke-width="1.6" fill="none"/>
<path d="M848.8 2155.05V2192.1M838.8 2155.05H858.8M838.8 2192.1H858.8" stroke="#fd3b3b" stroke-width="1.6" fill="none"/>
<path d="M973.64 2090.21V2130.35M963.64 2090.21H983.64M963.64 2130.35H983.64" stroke="#fd3b3b" stroke-width="1.6" fill="none"/>
<path d="M1098.48 2036.17V2079.4M1088.48 2036.17H1108.48M1088.48 2079.4H1108.48" stroke="#fd3b3b" stroke-width="1.6" fill="none"/>
<path d="M1223.32 1969.79V2016.1M1213.32 1969.79H1233.32M1213.32 2016.1H1233.32" stroke="#fd3b3b" stroke-width="1.6" fill="none"/>
<path d="M1348.16 1935.82V1985.23M1338.16 1935.82H1358.16M1338.16 1985.23H1358.16" stroke="#fd3b3b" stroke-width="1.6" fill="none"/>
<path d="M349.44 2559.54V2596.59M339.44 2559.54H359.44M339.44 2596.59H359.44" stroke="#0a6ee6" stroke-width="1.6" fill="none"/>
<path d="M474.28 2456.1V2496.24M464.28 2456.1H484.28M464.28 2496.24H484.28" stroke="#0a6ee6" stroke-width="1.6" fill="none"/>
<path d="M599.12 2256.94V2306.35M589.12 2256.94H609.12M589.12 2306.35H609.12" stroke="#0a6ee6" stroke-width="1.6" fill="none"/>
<path d="M723.96 2215.26V2258.49M713.96 2215.26H733.96M713.96 2258.49H733.96" stroke="#0a6ee6" stroke-width="1.6" fill="none"/>
<path d="M848.8 2141.16V2181.3M838.8 2141.16H858.8M838.8 2181.3H858.8" stroke="#0a6ee6" stroke-width="1.6" fill="none"/>
<path d="M973.64 2079.4V2116.45M963.64 2079.4H983.64M963.64 2116.45H983.64" stroke="#0a6ee6" stroke-width="1.6" fill="none"/>
<path d="M1098.48 2019.19V2056.24M1088.48 2019.19H1108.48M1088.48 2056.24H1108.48" stroke="#0a6ee6" stroke-width="1.6" fill="none"/>
<path d="M1223.32 1945.09V1991.4M1213.32 1945.09H1233.32M1213.32 1991.4H1233.32" stroke="#0a6ee6" stroke-width="1.6" fill="none"/>
<path d="M1348.16 1906.49V1949.72M1338.16 1906.49H1358.16M1338.16 1949.72H1358.16" stroke="#0a6ee6" stroke-width="1.6" fill="none"/>
<path d="M349.44 2542.56V2591.96M339.44 2542.56H359.44M339.44 2591.96H359.44" stroke="#03b062" stroke-width="1.6" fill="none"/>
<path d="M474.28 2477.71V2517.85M464.28 2477.71H484.28M464.28 2517.85H484.28" stroke="#03b062" stroke-width="1.6" fill="none"/>
<path d="M599.12 2354.21V2409.78M589.12 2354.21H609.12M589.12 2409.78H609.12" stroke="#03b062" stroke-width="1.6" fill="none"/>
<path d="M723.96 2182.84V2232.24M713.96 2182.84H733.96M713.96 2232.24H733.96" stroke="#03b062" stroke-width="1.6" fill="none"/>
<path d="M848.8 2088.66V2141.16M838.8 2088.66H858.8M838.8 2141.16H858.8" stroke="#03b062" stroke-width="1.6" fill="none"/>
<path d="M973.64 2033.09V2073.23M963.64 2033.09H983.64M963.64 2073.23H983.64" stroke="#03b062" stroke-width="1.6" fill="none"/>
<path d="M1098.48 1988.31V2022.28M1088.48 1988.31H1108.48M1088.48 2022.28H1108.48" stroke="#03b062" stroke-width="1.6" fill="none"/>
<path d="M1223.32 1955.89V1992.95M1213.32 1955.89H1233.32M1213.32 1992.95H1233.32" stroke="#03b062" stroke-width="1.6" fill="none"/>
<path d="M1348.16 1921.93V1958.98M1338.16 1921.93H1358.16M1338.16 1958.98H1358.16" stroke="#03b062" stroke-width="1.6" fill="none"/>
<path d="M349.44 2686.75V2717.63M339.44 2686.75H359.44M339.44 2717.63H359.44" stroke="#c477e4" stroke-width="1.6" fill="none"/>
<path d="M474.28 2686.75V2717.63M464.28 2686.75H484.28M464.28 2717.63H484.28" stroke="#c477e4" stroke-width="1.6" fill="none"/>
<path d="M599.12 2687.06V2714.85M589.12 2687.06H609.12M589.12 2714.85H609.12" stroke="#c477e4" stroke-width="1.6" fill="none"/>
<path d="M723.96 2679.96V2707.75M713.96 2679.96H733.96M713.96 2707.75H733.96" stroke="#c477e4" stroke-width="1.6" fill="none"/>
<path d="M848.8 2672.24V2703.12M838.8 2672.24H858.8M838.8 2703.12H858.8" stroke="#c477e4" stroke-width="1.6" fill="none"/>
<path d="M973.64 2670.69V2701.57M963.64 2670.69H983.64M963.64 2701.57H983.64" stroke="#c477e4" stroke-width="1.6" fill="none"/>
<path d="M1098.48 2670.69V2701.57M1088.48 2670.69H1108.48M1088.48 2701.57H1108.48" stroke="#c477e4" stroke-width="1.6" fill="none"/>
<path d="M1223.32 2666.37V2703.42M1213.32 2666.37H1233.32M1213.32 2703.42H1233.32" stroke="#c477e4" stroke-width="1.6" fill="none"/>
<path d="M1348.16 2671V2698.79M1338.16 2671H1358.16M1338.16 2698.79H1358.16" stroke="#c477e4" stroke-width="1.6" fill="none"/>
<path d="M349.44 2700.34V2737.39M339.44 2700.34H359.44M339.44 2737.39H359.44" stroke="#e19d00" stroke-width="1.6" fill="none"/>
<path d="M474.28 2700.34V2737.39M464.28 2700.34H484.28M464.28 2737.39H484.28" stroke="#e19d00" stroke-width="1.6" fill="none"/>
<path d="M599.12 2695.4V2732.45M589.12 2695.4H609.12M589.12 2732.45H609.12" stroke="#e19d00" stroke-width="1.6" fill="none"/>
<path d="M723.96 2694.78V2728.74M713.96 2694.78H733.96M713.96 2728.74H733.96" stroke="#e19d00" stroke-width="1.6" fill="none"/>
<path d="M848.8 2692.31V2729.36M838.8 2692.31H858.8M838.8 2729.36H858.8" stroke="#e19d00" stroke-width="1.6" fill="none"/>
<path d="M973.64 2693.08V2730.13M963.64 2693.08H983.64M963.64 2730.13H983.64" stroke="#e19d00" stroke-width="1.6" fill="none"/>
<path d="M1098.48 2693.08V2730.13M1088.48 2693.08H1108.48M1088.48 2730.13H1108.48" stroke="#e19d00" stroke-width="1.6" fill="none"/>
<path d="M1223.32 2690.3V2724.27M1213.32 2690.3H1233.32M1213.32 2724.27H1233.32" stroke="#e19d00" stroke-width="1.6" fill="none"/>
<path d="M1348.16 2687.52V2724.57M1338.16 2687.52H1358.16M1338.16 2724.57H1358.16" stroke="#e19d00" stroke-width="1.6" fill="none"/>
<rect x="224.6" y="1854" width="1248.4" height="1003.5" fill="none" stroke="#000" stroke-width="7.2"/>
<path d="M349.44 2853.9V2837.9M474.28 2853.9V2847.9M599.12 2853.9V2837.9M723.96 2853.9V2847.9M848.8 2853.9V2837.9M973.64 2853.9V2847.9M1098.48 2853.9V2837.9M1223.32 2853.9V2847.9M1348.16 2853.9V2837.9M228.2 2780.31H244.2M228.2 2703.12H234.2M228.2 2625.92H244.2M228.2 2548.73H234.2M228.2 2471.54H244.2M228.2 2394.35H234.2M228.2 2317.15H244.2M228.2 2239.96H234.2M228.2 2162.77H244.2M228.2 2085.58H234.2M228.2 2008.38H244.2M228.2 1931.19H234.2" stroke="#000" stroke-width="7.2" fill="none"/>
<text x="203.5" y="2796.31" text-anchor="end" font-size="54.5" font-weight="bold">0</text>
<text x="203.5" y="2641.92" text-anchor="end" font-size="54.5" font-weight="bold">10</text>
<text x="203.5" y="2487.54" text-anchor="end" font-size="54.5" font-weight="bold">20</text>
<text x="203.5" y="2333.15" text-anchor="end" font-size="54.5" font-weight="bold">30</text>
<text x="203.5" y="2178.77" text-anchor="end" font-size="54.5" font-weight="bold">40</text>
<text x="203.5" y="2024.38" text-anchor="end" font-size="54.5" font-weight="bold">50</text>
<text x="203.5" y="1870" text-anchor="end" font-size="54.5" font-weight="bold">60</text>
<text x="348.44" y="2919.9" text-anchor="middle" font-size="54.5" font-weight="bold">2</text>
<text x="598.12" y="2919.9" text-anchor="middle" font-size="54.5" font-weight="bold">4</text>
<text x="847.8" y="2919.9" text-anchor="middle" font-size="54.5" font-weight="bold">6</text>
<text x="1097.48" y="2919.9" text-anchor="middle" font-size="54.5" font-weight="bold">8</text>
<text x="1347.16" y="2919.9" text-anchor="middle" font-size="54.5" font-weight="bold">10</text>
<text x="544.48" y="3007.2" font-size="52.2" font-weight="bold">Day after inoculation</text>
<text transform="translate(1009.74,3004.84) scale(1.350,1)" font-size="42.74" font-family="'Liberation Serif','Noto Serif CJK SC',serif">（</text>
<text x="1070.98" y="3007.2" font-size="52.2" font-weight="bold">d</text>
<text transform="translate(1103.89,3004.84) scale(1.415,1)" font-size="42.74" font-family="'Liberation Serif','Noto Serif CJK SC',serif">）</text>
<g transform="translate(125.5,2687.3) rotate(-90)"><text x="-3.02" y="0" font-size="61.9" font-weight="bold">Colony diameter</text><text transform="translate(433.74,-2.72) scale(1.198,1)" font-size="51.39" font-family="'Liberation Serif','Noto Serif CJK SC',serif">（</text><text x="501.44" y="0" font-size="61.9" font-weight="bold">mm</text><text transform="translate(609.72,-2.72) scale(1.198,1)" font-size="51.39" font-family="'Liberation Serif','Noto Serif CJK SC',serif">）</text></g>
<line x1="272.3" y1="1924.1" x2="385.5" y2="1924.1" stroke="#4d4d4d" stroke-width="5" stroke-linecap="round"/>
<circle cx="328.6" cy="1924.1" r="16.5" fill="url(#ball)"/>
<text x="398.73" y="1941.2" font-size="50.5">CK</text>
<line x1="272.3" y1="1986.72" x2="385.5" y2="1986.72" stroke="#fd3b3b" stroke-width="5" stroke-linecap="round"/>
<rect x="313.85" y="1971.97" width="29.5" height="29.5" fill="#fd3b3b"/>
<text x="398.38" y="2003.82" font-size="50.5">30°C</text>
<line x1="272.3" y1="2049.34" x2="385.5" y2="2049.34" stroke="#0a6ee6" stroke-width="5" stroke-linecap="round"/>
<path d="M328.6 2026.67L347.85 2060.67L309.35 2060.67Z" fill="#0a6ee6"/>
<text x="399.81" y="2066.44" font-size="50.5">40°C</text>
<line x1="272.3" y1="2111.96" x2="385.5" y2="2111.96" stroke="#03b062" stroke-width="5" stroke-linecap="round"/>
<path d="M328.6 2134.63L347.85 2100.63L309.35 2100.63Z" fill="#03b062"/>
<text x="399.81" y="2129.06" font-size="50.5">45°C</text>
<line x1="272.3" y1="2174.58" x2="385.5" y2="2174.58" stroke="#c477e4" stroke-width="5" stroke-linecap="round"/>
<path d="M328.6 2154.08L348.6 2174.58L328.6 2195.08L308.6 2174.58Z" fill="#c477e4"/>
<text x="397.87" y="2191.68" font-size="50.5">50°C</text>
<line x1="272.3" y1="2237.2" x2="385.5" y2="2237.2" stroke="#e19d00" stroke-width="5" stroke-linecap="round"/>
<path d="M328.6 2218.2L333.07 2231.05L346.67 2231.33L335.83 2239.55L339.77 2252.57L328.6 2244.8L317.43 2252.57L321.37 2239.55L310.53 2231.33L324.13 2231.05Z" fill="#e19d00"/>
<text x="397.87" y="2254.3" font-size="50.5">55°C</text>
<text x="27.21" y="1834.5" font-size="53" font-weight="bold">C</text>
<polyline points="350.43,3799.8 475.16,3731.89 599.89,3562.12 724.62,3488.89 849.35,3340.67 974.08,3280.14 1098.81,3223.3 1223.54,3207.8 1348.27,3193.04" fill="none" stroke="#4d4d4d" stroke-width="4.2" stroke-linejoin="round"/>
<circle cx="350.43" cy="3799.8" r="16.5" fill="url(#ball)"/>
<circle cx="475.16" cy="3731.89" r="16.5" fill="url(#ball)"/>
<circle cx="599.89" cy="3562.12" r="16.5" fill="url(#ball)"/>
<circle cx="724.62" cy="3488.89" r="16.5" fill="url(#ball)"/>
<circle cx="849.35" cy="3340.67" r="16.5" fill="url(#ball)"/>
<circle cx="974.08" cy="3280.14" r="16.5" fill="url(#ball)"/>
<circle cx="1098.81" cy="3223.3" r="16.5" fill="url(#ball)"/>
<circle cx="1223.54" cy="3207.8" r="16.5" fill="url(#ball)"/>
<circle cx="1348.27" cy="3193.04" r="16.5" fill="url(#ball)"/>
<polyline points="350.43,3931.19 475.16,3931.19 599.89,3931.19 724.62,3925.29 849.35,3917.91 974.08,3914.95 1098.81,3914.95 1223.54,3913.48 1348.27,3913.48" fill="none" stroke="#fd3b3b" stroke-width="4.2" stroke-linejoin="round"/>
<rect x="335.68" y="3916.44" width="29.5" height="29.5" fill="#fd3b3b"/>
<rect x="460.41" y="3916.44" width="29.5" height="29.5" fill="#fd3b3b"/>
<rect x="585.14" y="3916.44" width="29.5" height="29.5" fill="#fd3b3b"/>
<rect x="709.87" y="3910.54" width="29.5" height="29.5" fill="#fd3b3b"/>
<rect x="834.6" y="3903.16" width="29.5" height="29.5" fill="#fd3b3b"/>
<rect x="959.33" y="3900.2" width="29.5" height="29.5" fill="#fd3b3b"/>
<rect x="1084.06" y="3900.2" width="29.5" height="29.5" fill="#fd3b3b"/>
<rect x="1208.79" y="3898.73" width="29.5" height="29.5" fill="#fd3b3b"/>
<rect x="1333.52" y="3898.73" width="29.5" height="29.5" fill="#fd3b3b"/>
<polyline points="350.43,3786.51 475.16,3721.56 599.89,3716.39 724.62,3714.18 849.35,3711.22 974.08,3711.22 1098.81,3711.22 1223.54,3711.22 1348.27,3708.27" fill="none" stroke="#0a6ee6" stroke-width="4.2" stroke-linejoin="round"/>
<path d="M350.43 3763.85L369.68 3797.85L331.18 3797.85Z" fill="#0a6ee6"/>
<path d="M475.16 3698.89L494.41 3732.89L455.91 3732.89Z" fill="#0a6ee6"/>
<path d="M599.89 3693.72L619.14 3727.72L580.64 3727.72Z" fill="#0a6ee6"/>
<path d="M724.62 3691.51L743.87 3725.51L705.37 3725.51Z" fill="#0a6ee6"/>
<path d="M849.35 3688.56L868.6 3722.56L830.1 3722.56Z" fill="#0a6ee6"/>
<path d="M974.08 3688.56L993.33 3722.56L954.83 3722.56Z" fill="#0a6ee6"/>
<path d="M1098.81 3688.56L1118.06 3722.56L1079.56 3722.56Z" fill="#0a6ee6"/>
<path d="M1223.54 3688.56L1242.79 3722.56L1204.29 3722.56Z" fill="#0a6ee6"/>
<path d="M1348.27 3685.6L1367.52 3719.6L1329.02 3719.6Z" fill="#0a6ee6"/>
<polyline points="350.43,3807.18 475.16,3723.03 599.89,3596.07 724.62,3513.4 849.35,3497.16 974.08,3423.34 1098.81,3374.62 1223.54,3303.76 1348.27,3263.9" fill="none" stroke="#03b062" stroke-width="4.2" stroke-linejoin="round"/>
<path d="M350.43 3829.85L369.68 3795.85L331.18 3795.85Z" fill="#03b062"/>
<path d="M475.16 3745.7L494.41 3711.7L455.91 3711.7Z" fill="#03b062"/>
<path d="M599.89 3618.74L619.14 3584.74L580.64 3584.74Z" fill="#03b062"/>
<path d="M724.62 3536.06L743.87 3502.06L705.37 3502.06Z" fill="#03b062"/>
<path d="M849.35 3519.83L868.6 3485.83L830.1 3485.83Z" fill="#03b062"/>
<path d="M974.08 3446.01L993.33 3412.01L954.83 3412.01Z" fill="#03b062"/>
<path d="M1098.81 3397.29L1118.06 3363.29L1079.56 3363.29Z" fill="#03b062"/>
<path d="M1223.54 3326.43L1242.79 3292.43L1204.29 3292.43Z" fill="#03b062"/>
<path d="M1348.27 3286.57L1367.52 3252.57L1329.02 3252.57Z" fill="#03b062"/>
<polyline points="350.43,3796.85 475.16,3635.93 599.89,3562.12 724.62,3523.73 849.35,3433.68 974.08,3327.38 1098.81,3281.62 1223.54,3266.85 1348.27,3258.73" fill="none" stroke="#c477e4" stroke-width="4.2" stroke-linejoin="round"/>
<path d="M350.43 3776.35L370.43 3796.85L350.43 3817.35L330.43 3796.85Z" fill="#c477e4"/>
<path d="M475.16 3615.43L495.16 3635.93L475.16 3656.43L455.16 3635.93Z" fill="#c477e4"/>
<path d="M599.89 3541.62L619.89 3562.12L599.89 3582.62L579.89 3562.12Z" fill="#c477e4"/>
<path d="M724.62 3503.23L744.62 3523.73L724.62 3544.23L704.62 3523.73Z" fill="#c477e4"/>
<path d="M849.35 3413.18L869.35 3433.68L849.35 3454.18L829.35 3433.68Z" fill="#c477e4"/>
<path d="M974.08 3306.88L994.08 3327.38L974.08 3347.88L954.08 3327.38Z" fill="#c477e4"/>
<path d="M1098.81 3261.12L1118.81 3281.62L1098.81 3302.12L1078.81 3281.62Z" fill="#c477e4"/>
<path d="M1223.54 3246.35L1243.54 3266.85L1223.54 3287.35L1203.54 3266.85Z" fill="#c477e4"/>
<path d="M1348.27 3238.23L1368.27 3258.73L1348.27 3279.23L1328.27 3258.73Z" fill="#c477e4"/>
<path d="M350.43 3782.09V3817.52M340.43 3782.09H360.43M340.43 3817.52H360.43" stroke="#4d4d4d" stroke-width="1.6" fill="none"/>
<path d="M475.16 3708.27V3755.51M465.16 3708.27H485.16M465.16 3755.51H485.16" stroke="#4d4d4d" stroke-width="1.6" fill="none"/>
<path d="M599.89 3538.5V3585.74M589.89 3538.5H609.89M589.89 3585.74H609.89" stroke="#4d4d4d" stroke-width="1.6" fill="none"/>
<path d="M724.62 3469.7V3508.08M714.62 3469.7H734.62M714.62 3508.08H734.62" stroke="#4d4d4d" stroke-width="1.6" fill="none"/>
<path d="M849.35 3325.91V3355.43M839.35 3325.91H859.35M839.35 3355.43H859.35" stroke="#4d4d4d" stroke-width="1.6" fill="none"/>
<path d="M974.08 3255.04V3305.24M964.08 3255.04H984.08M964.08 3305.24H984.08" stroke="#4d4d4d" stroke-width="1.6" fill="none"/>
<path d="M1098.81 3208.54V3238.07M1088.81 3208.54H1108.81M1088.81 3238.07H1108.81" stroke="#4d4d4d" stroke-width="1.6" fill="none"/>
<path d="M1223.54 3182.7V3232.9M1213.54 3182.7H1233.54M1213.54 3232.9H1233.54" stroke="#4d4d4d" stroke-width="1.6" fill="none"/>
<path d="M1348.27 3178.28V3207.8M1338.27 3178.28H1358.27M1338.27 3207.8H1358.27" stroke="#4d4d4d" stroke-width="1.6" fill="none"/>
<path d="M350.43 3910.52V3951.86M340.43 3910.52H360.43M340.43 3951.86H360.43" stroke="#fd3b3b" stroke-width="1.6" fill="none"/>
<path d="M475.16 3910.52V3951.86M465.16 3910.52H485.16M465.16 3951.86H485.16" stroke="#fd3b3b" stroke-width="1.6" fill="none"/>
<path d="M599.89 3914.95V3947.43M589.89 3914.95H609.89M589.89 3947.43H609.89" stroke="#fd3b3b" stroke-width="1.6" fill="none"/>
<path d="M724.62 3907.57V3943M714.62 3907.57H734.62M714.62 3943H734.62" stroke="#fd3b3b" stroke-width="1.6" fill="none"/>
<path d="M849.35 3897.24V3938.57M839.35 3897.24H859.35M839.35 3938.57H859.35" stroke="#fd3b3b" stroke-width="1.6" fill="none"/>
<path d="M974.08 3892.81V3937.1M964.08 3892.81H984.08M964.08 3937.1H984.08" stroke="#fd3b3b" stroke-width="1.6" fill="none"/>
<path d="M1098.81 3897.24V3932.67M1088.81 3897.24H1108.81M1088.81 3932.67H1108.81" stroke="#fd3b3b" stroke-width="1.6" fill="none"/>
<path d="M1223.54 3897.24V3929.72M1213.54 3897.24H1233.54M1213.54 3929.72H1233.54" stroke="#fd3b3b" stroke-width="1.6" fill="none"/>
<path d="M1348.27 3892.81V3934.15M1338.27 3892.81H1358.27M1338.27 3934.15H1358.27" stroke="#fd3b3b" stroke-width="1.6" fill="none"/>
<path d="M350.43 3771.75V3801.28M340.43 3771.75H360.43M340.43 3801.28H360.43" stroke="#0a6ee6" stroke-width="1.6" fill="none"/>
<path d="M475.16 3703.84V3739.27M465.16 3703.84H485.16M465.16 3739.27H485.16" stroke="#0a6ee6" stroke-width="1.6" fill="none"/>
<path d="M599.89 3692.77V3740.01M589.89 3692.77H609.89M589.89 3740.01H609.89" stroke="#0a6ee6" stroke-width="1.6" fill="none"/>
<path d="M724.62 3692.03V3736.32M714.62 3692.03H734.62M714.62 3736.32H734.62" stroke="#0a6ee6" stroke-width="1.6" fill="none"/>
<path d="M849.35 3690.55V3731.89M839.35 3690.55H859.35M839.35 3731.89H859.35" stroke="#0a6ee6" stroke-width="1.6" fill="none"/>
<path d="M974.08 3694.98V3727.46M964.08 3694.98H984.08M964.08 3727.46H984.08" stroke="#0a6ee6" stroke-width="1.6" fill="none"/>
<path d="M1098.81 3694.98V3727.46M1088.81 3694.98H1108.81M1088.81 3727.46H1108.81" stroke="#0a6ee6" stroke-width="1.6" fill="none"/>
<path d="M1223.54 3686.13V3736.32M1213.54 3686.13H1233.54M1213.54 3736.32H1233.54" stroke="#0a6ee6" stroke-width="1.6" fill="none"/>
<path d="M1348.27 3684.65V3731.89M1338.27 3684.65H1358.27M1338.27 3731.89H1358.27" stroke="#0a6ee6" stroke-width="1.6" fill="none"/>
<path d="M350.43 3789.47V3824.9M340.43 3789.47H360.43M340.43 3824.9H360.43" stroke="#03b062" stroke-width="1.6" fill="none"/>
<path d="M475.16 3705.32V3740.75M465.16 3705.32H485.16M465.16 3740.75H485.16" stroke="#03b062" stroke-width="1.6" fill="none"/>
<path d="M599.89 3573.93V3618.22M589.89 3573.93H609.89M589.89 3618.22H609.89" stroke="#03b062" stroke-width="1.6" fill="none"/>
<path d="M724.62 3495.68V3531.11M714.62 3495.68H734.62M714.62 3531.11H734.62" stroke="#03b062" stroke-width="1.6" fill="none"/>
<path d="M849.35 3469.11V3525.21M839.35 3469.11H859.35M839.35 3525.21H859.35" stroke="#03b062" stroke-width="1.6" fill="none"/>
<path d="M974.08 3405.63V3441.06M964.08 3405.63H984.08M964.08 3441.06H984.08" stroke="#03b062" stroke-width="1.6" fill="none"/>
<path d="M1098.81 3356.91V3392.34M1088.81 3356.91H1108.81M1088.81 3392.34H1108.81" stroke="#03b062" stroke-width="1.6" fill="none"/>
<path d="M1223.54 3280.14V3327.38M1213.54 3280.14H1233.54M1213.54 3327.38H1233.54" stroke="#03b062" stroke-width="1.6" fill="none"/>
<path d="M1348.27 3238.8V3289M1338.27 3238.8H1358.27M1338.27 3289H1358.27" stroke="#03b062" stroke-width="1.6" fill="none"/>
<path d="M350.43 3782.09V3811.61M340.43 3782.09H360.43M340.43 3811.61H360.43" stroke="#c477e4" stroke-width="1.6" fill="none"/>
<path d="M475.16 3618.22V3653.65M465.16 3618.22H485.16M465.16 3653.65H485.16" stroke="#c477e4" stroke-width="1.6" fill="none"/>
<path d="M599.89 3544.4V3579.83M589.89 3544.4H609.89M589.89 3579.83H609.89" stroke="#c477e4" stroke-width="1.6" fill="none"/>
<path d="M724.62 3506.02V3541.45M714.62 3506.02H734.62M714.62 3541.45H734.62" stroke="#c477e4" stroke-width="1.6" fill="none"/>
<path d="M849.35 3418.91V3448.44M839.35 3418.91H859.35M839.35 3448.44H859.35" stroke="#c477e4" stroke-width="1.6" fill="none"/>
<path d="M974.08 3311.14V3343.62M964.08 3311.14H984.08M964.08 3343.62H984.08" stroke="#c477e4" stroke-width="1.6" fill="none"/>
<path d="M1098.81 3266.85V3296.38M1088.81 3266.85H1108.81M1088.81 3296.38H1108.81" stroke="#c477e4" stroke-width="1.6" fill="none"/>
<path d="M1223.54 3252.09V3281.62M1213.54 3252.09H1233.54M1213.54 3281.62H1233.54" stroke="#c477e4" stroke-width="1.6" fill="none"/>
<path d="M1348.27 3242.5V3274.97M1338.27 3242.5H1358.27M1338.27 3274.97H1358.27" stroke="#c477e4" stroke-width="1.6" fill="none"/>
<rect x="225.7" y="3120.7" width="1247.3" height="959.6" fill="none" stroke="#000" stroke-width="7.2"/>
<path d="M350.43 4076.7V4061.5M475.16 4076.7V4070.7M599.89 4076.7V4061.5M724.62 4076.7V4070.7M849.35 4076.7V4061.5M974.08 4076.7V4070.7M1098.81 4076.7V4061.5M1223.54 4076.7V4070.7M1348.27 4076.7V4061.5M229.3 4006.48H244.5M229.3 3932.67H235.3M229.3 3858.85H244.5M229.3 3785.04H235.3M229.3 3711.22H244.5M229.3 3637.41H235.3M229.3 3563.59H244.5M229.3 3489.78H235.3M229.3 3415.96H244.5M229.3 3342.15H235.3M229.3 3268.33H244.5M229.3 3194.52H235.3" stroke="#000" stroke-width="7.2" fill="none"/>
<text x="203.5" y="4021.78" text-anchor="end" font-size="52" font-weight="bold">0</text>
<text x="203.5" y="3874.15" text-anchor="end" font-size="52" font-weight="bold">10</text>
<text x="203.5" y="3726.52" text-anchor="end" font-size="52" font-weight="bold">20</text>
<text x="203.5" y="3578.89" text-anchor="end" font-size="52" font-weight="bold">30</text>
<text x="203.5" y="3431.26" text-anchor="end" font-size="52" font-weight="bold">40</text>
<text x="203.5" y="3283.63" text-anchor="end" font-size="52" font-weight="bold">50</text>
<text x="203.5" y="3136" text-anchor="end" font-size="52" font-weight="bold">60</text>
<text x="349.43" y="4139.9" text-anchor="middle" font-size="52" font-weight="bold">2</text>
<text x="598.89" y="4139.9" text-anchor="middle" font-size="52" font-weight="bold">4</text>
<text x="848.35" y="4139.9" text-anchor="middle" font-size="52" font-weight="bold">6</text>
<text x="1097.81" y="4139.9" text-anchor="middle" font-size="52" font-weight="bold">8</text>
<text x="1347.27" y="4139.9" text-anchor="middle" font-size="52" font-weight="bold">10</text>
<text x="545.08" y="4227.2" font-size="52.2" font-weight="bold">Day after inoculation</text>
<text transform="translate(1008.6,4224.79) scale(1.374,1)" font-size="43.27" font-family="'Liberation Serif','Noto Serif CJK SC',serif">（</text>
<text x="1070.98" y="4227.2" font-size="52.2" font-weight="bold">d</text>
<text transform="translate(1103.78,4224.79) scale(1.438,1)" font-size="43.27" font-family="'Liberation Serif','Noto Serif CJK SC',serif">）</text>
<g transform="translate(126.3,3916.5) rotate(-90)"><text x="-2.89" y="0" font-size="59.2" font-weight="bold">Colony diameter</text><text transform="translate(414.44,-2.87) scale(1.216,1)" font-size="47.44" font-family="'Liberation Serif','Noto Serif CJK SC',serif">（</text><text x="479.11" y="0" font-size="59.2" font-weight="bold">mm</text><text transform="translate(581.36,-2.87) scale(1.253,1)" font-size="47.44" font-family="'Liberation Serif','Noto Serif CJK SC',serif">）</text></g>
<line x1="273.4" y1="3189" x2="386" y2="3189" stroke="#4d4d4d" stroke-width="4.2" stroke-linecap="round"/>
<circle cx="329.2" cy="3189" r="16.5" fill="url(#ball)"/>
<text x="398.3" y="3205.3" font-size="51.2">CK</text>
<line x1="273.4" y1="3248.6" x2="386" y2="3248.6" stroke="#fd3b3b" stroke-width="4.2" stroke-linecap="round"/>
<rect x="314.45" y="3233.85" width="29.5" height="29.5" fill="#fd3b3b"/>
<text x="398.55" y="3264.9" font-size="51.2">IR-1 d</text>
<line x1="273.4" y1="3308.2" x2="386" y2="3308.2" stroke="#0a6ee6" stroke-width="4.2" stroke-linecap="round"/>
<path d="M329.2 3285.53L348.45 3319.53L309.95 3319.53Z" fill="#0a6ee6"/>
<text x="398.55" y="3324.5" font-size="51.2">IR-3 d</text>
<line x1="273.4" y1="3367.8" x2="386" y2="3367.8" stroke="#03b062" stroke-width="4.2" stroke-linecap="round"/>
<path d="M329.2 3390.47L348.45 3356.47L309.95 3356.47Z" fill="#03b062"/>
<text x="398.55" y="3384.1" font-size="51.2">IR-5 d</text>
<line x1="273.4" y1="3427.4" x2="386" y2="3427.4" stroke="#c477e4" stroke-width="4.2" stroke-linecap="round"/>
<path d="M329.2 3406.9L349.2 3427.4L329.2 3447.9L309.2 3427.4Z" fill="#c477e4"/>
<text x="398.55" y="3443.7" font-size="51.2">IR-7 d</text>
<text x="42.97" y="3080.5" font-size="53" font-weight="bold">D</text>
</svg>
</body></html>
